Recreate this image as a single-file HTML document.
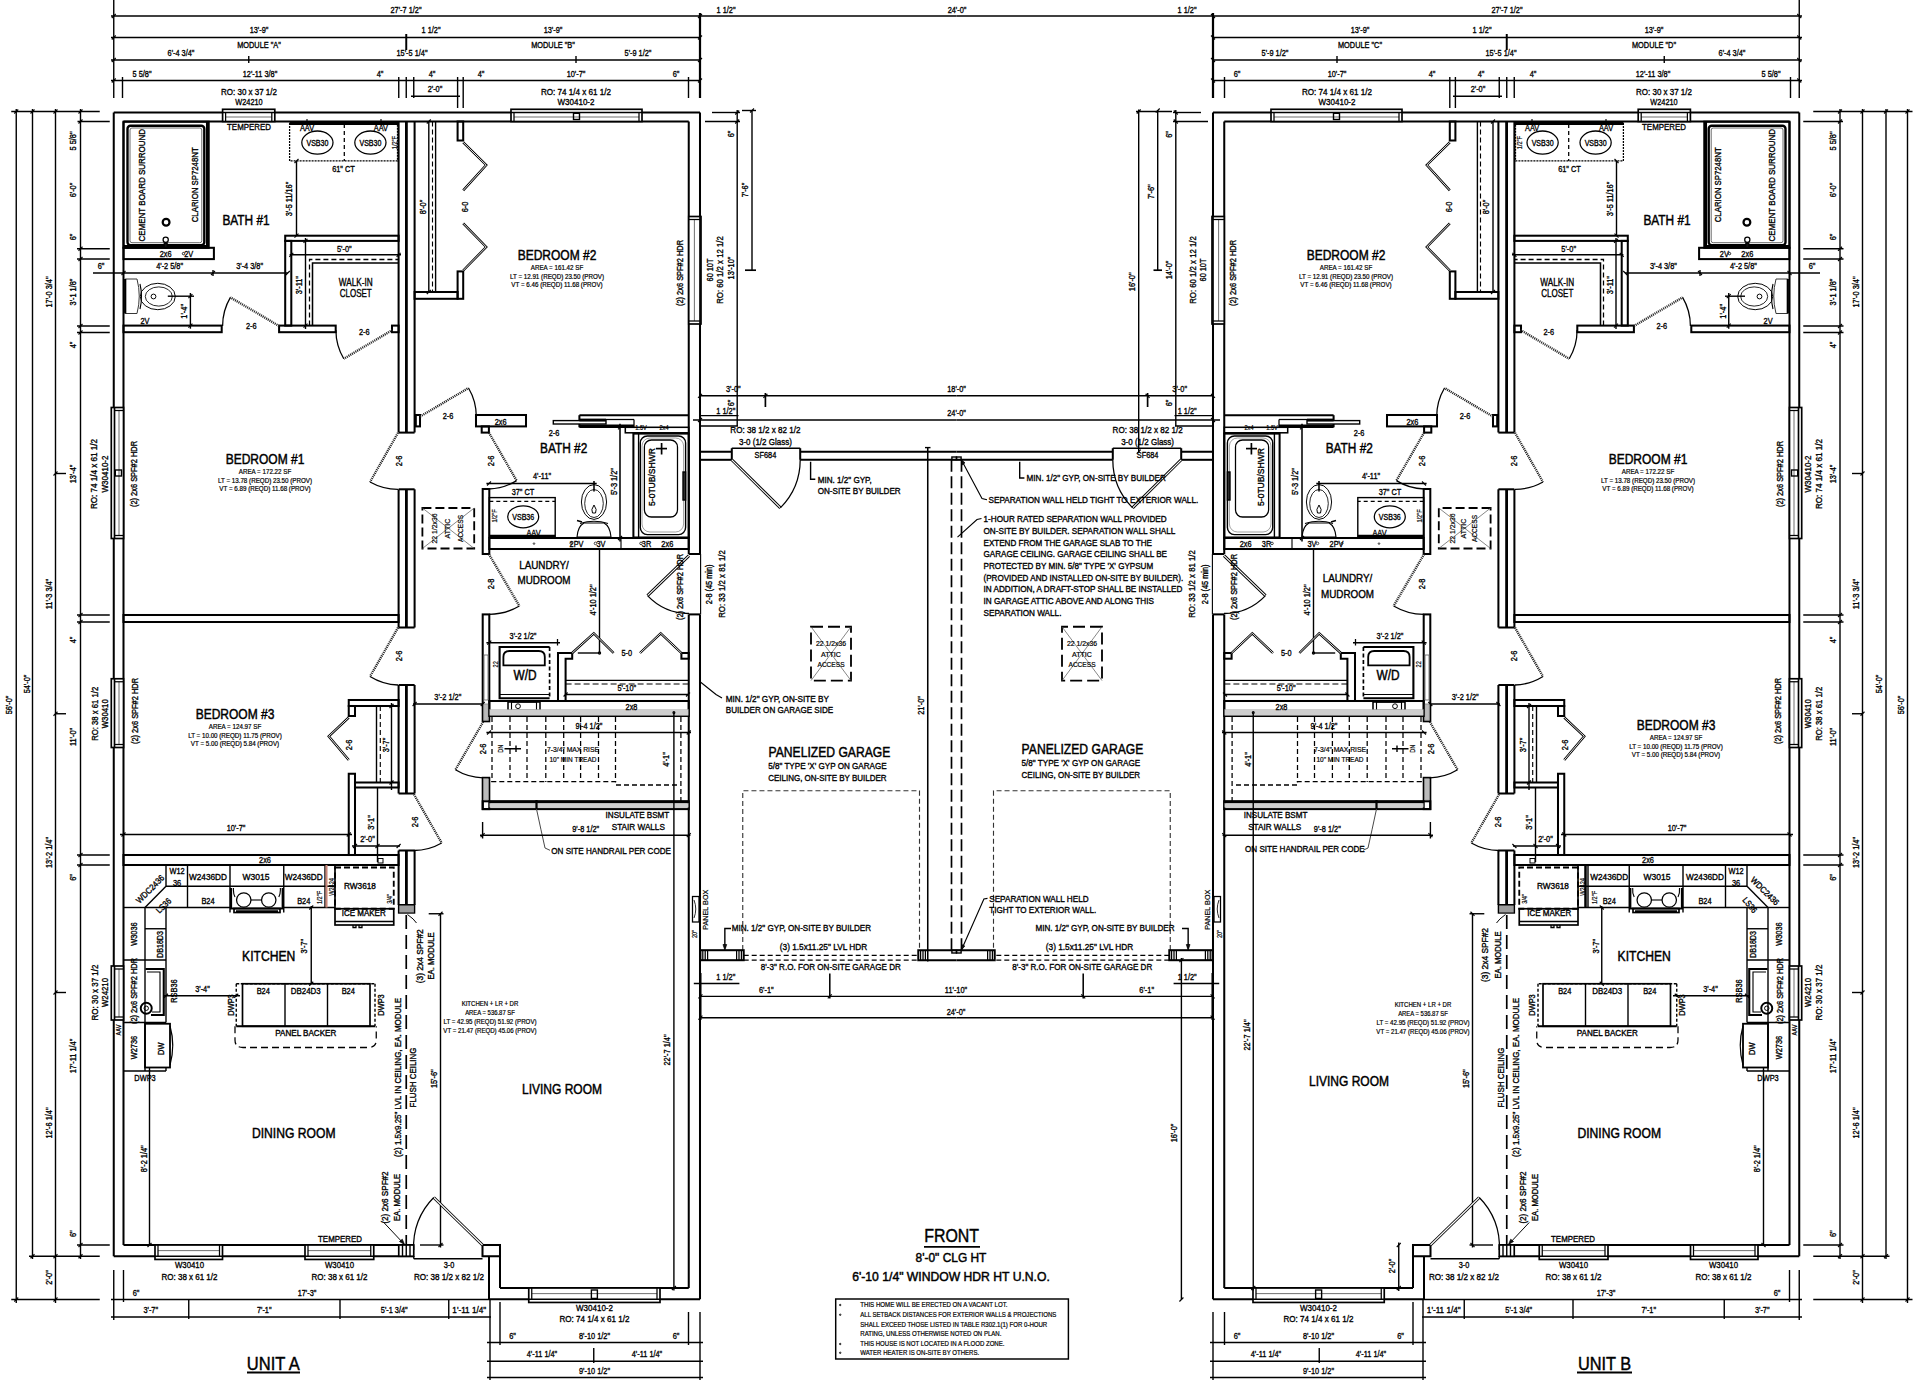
<!DOCTYPE html><html><head><meta charset="utf-8"><title>Duplex Floor Plan</title><style>html,body{margin:0;padding:0;background:#fff}
svg{display:block}text{font-family:"Liberation Sans",Arial,sans-serif;fill:#000;stroke:#000;stroke-width:.35px}.d{font-size:9.2px}.r{font-size:13.8px}.s{font-size:6.5px}.c{font-size:8.6px}.t{font-size:7px}.w{font-size:10.4px}.n{font-size:9.2px}.b{font-size:6.6px}.U{font-size:19px}.F{font-size:12.3px}.s,.b,.t{stroke-width:.2px}.r,.U,.F{stroke-width:.45px}g.k{fill:none;stroke:#000;stroke-width:1.4}
</style></head><body>
<svg width="1920" height="1380" viewBox="0 0 1920 1380">
<rect width="1920" height="1380" fill="#fff"/>
<g class="k">
<path d="M111 16L956.5 16"/>
<path d="M113.75 0L113.75 98"/>
<path d="M700 13L700 98" stroke-width="2.24"/>
<path d="M111 37.5L700 37.5"/>
<path d="M111 60L700 60"/>
<path d="M111 80.5L700 80.5"/>
<path d="M406.25 34L406.25 50" stroke-width="1.96"/>
<path d="M248.75 56L248.75 63"/>
<path d="M576 56L576 63"/>
<path d="M122.5 77L122.5 98"/>
<path d="M398.75 77L398.75 98"/>
<path d="M406.25 77L406.25 98"/>
<path d="M413.75 77L413.75 98"/>
<path d="M688.5 77L688.5 98"/>
<path d="M457.6 77L457.6 108"/>
<path d="M463.2 77L463.2 108"/>
<path d="M411 96.25L460 96.25"/>
<path d="M111.75 18L115.75 14" stroke-width="1.12"/>
<path d="M111.75 39.5L115.75 35.5" stroke-width="1.12"/>
<path d="M111.75 62L115.75 58" stroke-width="1.12"/>
<path d="M111.75 82.5L115.75 78.5" stroke-width="1.12"/>
<path d="M698 39.5L702 35.5" stroke-width="1.12"/>
<path d="M698 62L702 58" stroke-width="1.12"/>
<path d="M698 82.5L702 78.5" stroke-width="1.12"/>
<path d="M698 18L702 14" stroke-width="1.12"/>
<path d="M111 1299.5L489 1299.5"/>
<path d="M111 1317L491 1317"/>
<path d="M113.75 1270L113.75 1320"/>
<path d="M123.5 1270L123.5 1302"/>
<path d="M188.75 1299.5L188.75 1319"/>
<path d="M340 1299.5L340 1319"/>
<path d="M448.75 1299.5L448.75 1319"/>
<path d="M490 1299.5L490 1380"/>
<path d="M500 1302L500 1345"/>
<path d="M688.5 1312L688.5 1345"/>
<path d="M700 1312L700 1380"/>
<path d="M487 1342.5L703 1342.5"/>
<path d="M487 1361.25L703 1361.25"/>
<path d="M487 1377.5L703 1377.5"/>
<path d="M593.75 1348L593.75 1363"/>
<path d="M113.75 112.5L113.75 1256.25" stroke-width="2.03"/>
<path d="M123.5 121.5L123.5 1245" stroke-width="2.03"/>
<path d="M113.75 112.5L700 112.5" stroke-width="2.03"/>
<path d="M123.5 121.5L688.75 121.5" stroke-width="2.03"/>
<path d="M700 112.5L700 554" stroke-width="2.03"/>
<path d="M688.75 121.5L688.75 554" stroke-width="2.03"/>
<path d="M688.75 554L700 554" stroke-width="2.03"/>
<path d="M700 614.4L700 1299.25" stroke-width="2.03"/>
<path d="M688.75 614.4L688.75 1288" stroke-width="2.03"/>
<path d="M688.75 614.4L700 614.4" stroke-width="2.03"/>
<path d="M700.6 554L700.6 614.4" stroke-width="1.12"/>
<path d="M123.5 1245L413.75 1245" stroke-width="2.03"/>
<path d="M113.75 1256.25L413.75 1256.25" stroke-width="2.03"/>
<rect x="398.75" y="1245" width="15" height="11.25" stroke-width="1.68" fill="#fff"/>
<path d="M402.5 1245L402.5 1256.25"/>
<path d="M406.25 1245L406.25 1256.25"/>
<path d="M410 1245L410 1256.25"/>
<path d="M413.75 1258.75L482.5 1258.75"/>
<path d="M413.75 1256L413.75 1258.75"/>
<rect x="482.5" y="1245" width="17.5" height="11.25" stroke-width="2.03"/>
<path d="M489 1256.25L489 1299.25" stroke-width="2.03"/>
<path d="M500 1256.25L500 1288" stroke-width="2.03"/>
<path d="M500 1288L688.75 1288" stroke-width="2.03"/>
<path d="M489 1299.25L700 1299.25" stroke-width="2.03"/>
<rect x="111.3" y="407.5" width="12.2" height="131" stroke-width="1.68" fill="#fff"/>
<path d="M114.5 407.5L114.5 538.5" stroke-width="1.68"/>
<path d="M119 410.5L119 535.5" stroke-width="0.84" stroke="#555"/>
<path d="M114.5 410.5L123.5 410.5" stroke-width="1.26"/>
<path d="M114.5 535.5L123.5 535.5" stroke-width="1.26"/>
<rect x="115.3" y="470" width="6.2" height="6"/>
<rect x="111.3" y="678.75" width="12.2" height="68.75" stroke-width="1.68" fill="#fff"/>
<path d="M114.5 678.75L114.5 747.5" stroke-width="1.68"/>
<path d="M119 681.75L119 744.5" stroke-width="0.84" stroke="#555"/>
<path d="M114.5 681.75L123.5 681.75" stroke-width="1.26"/>
<path d="M114.5 744.5L123.5 744.5" stroke-width="1.26"/>
<rect x="111.3" y="966" width="12.2" height="54" stroke-width="1.68" fill="#fff"/>
<path d="M114.5 966L114.5 1020" stroke-width="1.68"/>
<path d="M119 969L119 1017" stroke-width="0.84" stroke="#555"/>
<path d="M114.5 969L123.5 969" stroke-width="1.26"/>
<path d="M114.5 1017L123.5 1017" stroke-width="1.26"/>
<rect x="222.6" y="109.3" width="52.2" height="12.2" stroke-width="1.68" fill="#fff"/>
<path d="M222.6 112.5L274.8 112.5" stroke-width="1.68"/>
<path d="M225.6 117L271.8 117" stroke-width="0.84" stroke="#555"/>
<path d="M225.6 112.5L225.6 121.5" stroke-width="1.26"/>
<path d="M271.8 112.5L271.8 121.5" stroke-width="1.26"/>
<rect x="511" y="109.3" width="131" height="12.2" stroke-width="1.68" fill="#fff"/>
<path d="M511 112.5L642 112.5" stroke-width="1.68"/>
<path d="M514 117L639 117" stroke-width="0.84" stroke="#555"/>
<path d="M514 112.5L514 121.5" stroke-width="1.26"/>
<path d="M639 112.5L639 121.5" stroke-width="1.26"/>
<rect x="573.5" y="113.3" width="6" height="6.2"/>
<rect x="688.75" y="216.5" width="12.25" height="107.5" stroke-width="1.68" fill="#fff"/>
<path d="M700 216.5L700 324" stroke-width="1.68"/>
<path d="M694.38 219.5L694.38 321" stroke-width="0.84" stroke="#555"/>
<path d="M700 219.5L688.75 219.5" stroke-width="1.26"/>
<path d="M700 321L688.75 321" stroke-width="1.26"/>
<rect x="155" y="1245" width="67.5" height="14.45" stroke-width="1.68" fill="#fff"/>
<path d="M155 1256.25L222.5 1256.25" stroke-width="1.68"/>
<path d="M158 1250.62L219.5 1250.62" stroke-width="0.84" stroke="#555"/>
<path d="M158 1256.25L158 1245" stroke-width="1.26"/>
<path d="M219.5 1256.25L219.5 1245" stroke-width="1.26"/>
<rect x="305" y="1245" width="68.75" height="14.45" stroke-width="1.68" fill="#fff"/>
<path d="M305 1256.25L373.75 1256.25" stroke-width="1.68"/>
<path d="M308 1250.62L370.75 1250.62" stroke-width="0.84" stroke="#555"/>
<path d="M308 1256.25L308 1245" stroke-width="1.26"/>
<path d="M370.75 1256.25L370.75 1245" stroke-width="1.26"/>
<rect x="528.75" y="1288" width="131.25" height="14.45" stroke-width="1.68" fill="#fff"/>
<path d="M528.75 1299.25L660 1299.25" stroke-width="1.68"/>
<path d="M531.75 1293.62L657 1293.62" stroke-width="0.84" stroke="#555"/>
<path d="M531.75 1299.25L531.75 1288" stroke-width="1.26"/>
<path d="M657 1299.25L657 1288" stroke-width="1.26"/>
<rect x="591.38" y="1290" width="6" height="8.45"/>
<path d="M398.6 121.5L398.6 432.6" stroke-width="2.03"/>
<path d="M406.4 121.5L406.4 432.6" stroke-width="2.8"/>
<path d="M414.6 121.5L414.6 432.6" stroke-width="2.03"/>
<path d="M398.6 432.6L414.6 432.6" stroke-width="2.03"/>
<path d="M398.6 489.3L398.6 627.5" stroke-width="2.03"/>
<path d="M406.4 489.3L406.4 627.5" stroke-width="2.8"/>
<path d="M414.6 489.3L414.6 627.5" stroke-width="2.03"/>
<path d="M398.6 489.3L414.6 489.3" stroke-width="2.03"/>
<path d="M398.6 627.5L414.6 627.5" stroke-width="2.03"/>
<path d="M398.6 685L398.6 793.5" stroke-width="2.03"/>
<path d="M406.4 685L406.4 793.5" stroke-width="2.8"/>
<path d="M414.6 685L414.6 793.5" stroke-width="2.03"/>
<path d="M398.6 685L414.6 685" stroke-width="2.03"/>
<path d="M398.6 793.5L414.6 793.5" stroke-width="2.03"/>
<path d="M398.6 850.5L398.6 905" stroke-width="2.03"/>
<path d="M406.4 850.5L406.4 905" stroke-width="2.8"/>
<path d="M414.6 850.5L414.6 905" stroke-width="2.03"/>
<path d="M398.6 850.5L414.6 850.5" stroke-width="2.03"/>
<path d="M398.6 905L414.6 905" stroke-width="2.03"/>
<rect x="398.6" y="905" width="16" height="8" fill="#fff"/>
<path d="M398.6 907L414.6 907" stroke-width="0.77"/>
<path d="M398.6 909L414.6 909" stroke-width="0.77"/>
<path d="M398.6 911L414.6 911" stroke-width="0.77"/>
<rect x="123.5" y="121.7" width="85.2" height="126.1" stroke-width="2.03"/>
<path d="M207.5 121.7L207.5 247.8" stroke-width="3.08"/>
<path d="M123.5 246.6L208.7 246.6" stroke-width="3.08"/>
<rect x="127.5" y="125.7" width="76.8" height="119.5" stroke-width="2.38" rx="3"/>
<rect x="130" y="128" width="71.8" height="114.7" stroke-width="0.98" stroke="#666" rx="2"/>
<ellipse cx="166.1" cy="222.3" rx="3.4" ry="3.4" stroke-width="2.24"/>
<ellipse cx="165.7" cy="239.7" rx="2.6" ry="2.6" stroke-width="1.26"/>
<rect x="164.2" y="243" width="3" height="5" stroke-width="1.12" fill="#111"/>
<rect x="123.5" y="247.8" width="90.4" height="11.3" stroke-width="2.03"/>
<ellipse cx="183.5" cy="253.6" rx="1.2" ry="1.2" stroke-width="0.84"/>
<path d="M93 273L287.8 273"/>
<path d="M213 270L213 276"/>
<path d="M121.5 275L125.5 271" stroke-width="1.12"/>
<path d="M211 275L215 271" stroke-width="1.12"/>
<path d="M285.8 275L289.8 271" stroke-width="1.12"/>
<path d="M125.2 279 L137 279 Q141.5 296 137 313.5 L125.2 313.5" stroke-width="0.98" stroke="#333"/>
<path d="M125.2 279L125.2 313.5" stroke-width="2.24"/>
<ellipse cx="157.8" cy="296.5" rx="17.5" ry="13.2" stroke-width="0.98"/>
<ellipse cx="158.8" cy="296.5" rx="13.5" ry="9.6" stroke-width="0.84"/>
<path d="M140 284 Q143 296.5 140 309" stroke-width="1.12"/>
<ellipse cx="153.5" cy="296.5" rx="2.4" ry="2.4" stroke-width="0.98"/>
<rect x="123.5" y="325.6" width="98.2" height="6.6" stroke-width="2.03"/>
<rect x="279.1" y="325.6" width="56.6" height="6.6" stroke-width="2.03"/>
<path d="M279.1 326L230.4 297.4" stroke-width="2.38" stroke-dasharray="1.1 0.9" stroke="#222"/>
<path d="M230.4 297.4A56.48 56.48 0 0 0 222.6 326" stroke-width="1.26"/>
<rect x="289.6" y="121.7" width="107.9" height="39.2" stroke-width="1.26" stroke-dasharray="2 1"/>
<path d="M289.6 123L398 123" stroke-width="4.2"/>
<path d="M344.3 124L344.3 160.9" stroke-width="1.26" stroke-dasharray="4 3"/>
<ellipse cx="317.4" cy="142.6" rx="15.6" ry="11.6" stroke-width="1.26"/>
<ellipse cx="370.4" cy="142.6" rx="15.6" ry="11.6" stroke-width="1.26"/>
<path d="M307 121.5 L307 119 M381 121.5 L381 119" stroke-width="1.12"/>
<path d="M296.5 161L296.5 235.7"/>
<path d="M294.5 163L298.5 159" stroke-width="1.12"/>
<path d="M294.5 237.7L298.5 233.7" stroke-width="1.12"/>
<rect x="285.2" y="235.7" width="113.4" height="5.2" stroke-width="2.03"/>
<rect x="285.2" y="240.9" width="6.1" height="84.7" stroke-width="2.03"/>
<path d="M289.6 254.8L401 254.8"/>
<path d="M289.3 256.8L293.3 252.8" stroke-width="1.12"/>
<path d="M396.6 256.8L400.6 252.8" stroke-width="1.12"/>
<path d="M309.5 325.6 L309.5 259.5 L398.6 259.5" stroke-width="1.26" stroke-dasharray="5 3"/>
<path d="M312.5 325.6 L312.5 263 L398.6 263" stroke-width="1.54"/>
<rect x="392" y="325.6" width="6.6" height="6.6" stroke-width="2.03"/>
<path d="M392.5 330L343.75 358.75" stroke-width="2.38" stroke-dasharray="1.1 0.9" stroke="#222"/>
<path d="M343.75 358.75A56.6 56.6 0 0 1 335.9 330" stroke-width="1.26"/>
<rect x="123.5" y="615" width="275.1" height="7" stroke-width="2.03"/>
<path d="M398 432.8L370 482" stroke-width="2.38" stroke-dasharray="1.1 0.9" stroke="#222"/>
<path d="M370 482A56.61 56.61 0 0 0 398 489.3" stroke-width="1.26"/>
<path d="M398 627.7L370 676.5" stroke-width="2.38" stroke-dasharray="1.1 0.9" stroke="#222"/>
<path d="M370 676.5A56.26 56.26 0 0 0 398 685" stroke-width="1.26"/>
<rect x="348.75" y="700" width="49.85" height="6" stroke-width="2.03"/>
<rect x="348.75" y="706" width="6.25" height="10" stroke-width="2.03"/>
<rect x="348.75" y="773.75" width="6.25" height="81.25" stroke-width="2.03"/>
<rect x="355" y="782.5" width="43.6" height="5" stroke-width="2.03"/>
<path d="M376.5 706L376.5 782.5"/>
<path d="M380.3 706L380.3 782.5" stroke-width="1.12" stroke-dasharray="5 3"/>
<path d="M348.75 717.5L328.75 736.25L348.75 760" stroke-width="2.4" stroke-linejoin="miter"/>
<path d="M348.75 717.5L328.75 736.25L348.75 760" stroke-width="0.9" stroke="#fff"/>
<path d="M377.5 787.5L377.5 862"/>
<path d="M352 846L400 846"/>
<path d="M375.5 848L379.5 844" stroke-width="1.12"/>
<path d="M353 848L357 844" stroke-width="1.12"/>
<path d="M396.6 848L400.6 844" stroke-width="1.12"/>
<path d="M120 834.5L352 834.5"/>
<path d="M121.5 836.5L125.5 832.5" stroke-width="1.12"/>
<path d="M346.75 836.5L350.75 832.5" stroke-width="1.12"/>
<rect x="123.5" y="855" width="275.1" height="10" stroke-width="2.03"/>
<rect x="378" y="858.5" width="5" height="4.5" stroke-width="0.98"/>
<rect x="457.6" y="121.5" width="5.6" height="19" stroke-width="2.03"/>
<rect x="457.6" y="271.4" width="5.6" height="27.4" stroke-width="2.03"/>
<rect x="414.6" y="292" width="43" height="6.8" stroke-width="2.03"/>
<path d="M432.5 121.5L432.5 292" stroke-width="1.12" stroke-dasharray="5 3"/>
<path d="M435.6 121.5L435.6 292"/>
<path d="M463.2 142.4L486.2 165L463.2 190.4" stroke-width="2.4" stroke-linejoin="miter"/>
<path d="M463.2 142.4L486.2 165L463.2 190.4" stroke-width="0.9" stroke="#fff"/>
<path d="M463.2 223.4L486.2 247L463.2 270.5" stroke-width="2.4" stroke-linejoin="miter"/>
<path d="M463.2 223.4L486.2 247L463.2 270.5" stroke-width="0.9" stroke="#fff"/>
<rect x="415.8" y="415" width="4.2" height="11.4" stroke-width="2.03"/>
<path d="M420 416.6L468.5 388" stroke-width="2.38" stroke-dasharray="1.1 0.9" stroke="#222"/>
<path d="M468.5 388A56.3 56.3 0 0 1 476.3 416.6" stroke-width="1.26"/>
<path d="M413.9 794.3L441.7 843" stroke-width="2.38" stroke-dasharray="1.1 0.9" stroke="#222"/>
<path d="M441.7 843A56.08 56.08 0 0 1 413.9 850.5" stroke-width="1.26"/>
<rect x="476" y="415" width="50" height="11.4" stroke-width="2.03"/>
<rect x="481.7" y="426.4" width="7.2" height="6.2" stroke-width="2.03"/>
<path d="M488.9 432.6L516.6 480.6" stroke-width="2.38" stroke-dasharray="1.1 0.9" stroke="#222"/>
<path d="M516.6 480.6A55.42 55.42 0 0 1 488.9 489" stroke-width="1.26"/>
<rect x="422.4" y="508" width="51.8" height="40.5" stroke-width="1.82" stroke-dasharray="9 4"/>
<path d="M422.4 508L474.2 548.5" stroke-width="0.7" stroke="#555"/>
<path d="M474.2 508L422.4 548.5" stroke-width="0.7" stroke="#555"/>
<path d="M579.4 415.2L688.75 415.2" stroke-width="2.03"/>
<path d="M579.4 415.2L579.4 427.3" stroke-width="2.03"/>
<path d="M579.4 426.2L634 426.2" stroke-width="3.36"/>
<rect x="553.3" y="420.6" width="52.7" height="3.4" fill="#fff"/>
<path d="M606 419.5L634 419.5" stroke-width="1.26"/>
<path d="M634 419.5L634 427.3" stroke-width="1.26"/>
<path d="M579.4 420L606 420" stroke-width="2.8"/>
<rect x="625.3" y="427.3" width="63.45" height="5.5" stroke-width="1.54"/>
<rect x="633.4" y="433.6" width="55.35" height="103.9" stroke-width="2.03"/>
<path d="M638.6 433.6L638.6 537.5"/>
<rect x="640.3" y="436" width="45.3" height="98.6" rx="7"/>
<rect x="644.4" y="440" width="33.1" height="77" stroke-width="1.26" rx="7"/>
<rect x="642" y="438" width="41.6" height="94" stroke-width="0.7" stroke="#777" rx="8"/>
<path d="M656 448.6L667 448.6" stroke-width="1.68"/>
<path d="M661.6 443L661.6 454.5" stroke-width="1.68"/>
<rect x="683" y="472" width="2.6" height="28" fill="#333"/>
<path d="M486.4 483.5L596.7 483.5"/>
<path d="M487 485.5L491 481.5" stroke-width="1.12"/>
<path d="M594 481L594 491.6" stroke-width="1.54"/>
<rect x="482.7" y="489" width="6.6" height="65" stroke-width="2.03"/>
<rect x="489.3" y="497.6" width="65.9" height="39.4"/>
<path d="M489.3 501.4L555.2 501.4" stroke-width="1.12" stroke-dasharray="4 3"/>
<path d="M489.3 536.6L555.2 536.6" stroke-width="3.64"/>
<ellipse cx="523.2" cy="516.8" rx="15.5" ry="11" stroke-width="1.26"/>
<path d="M577 537 Q578 526 584 523 L604 523 Q610 526 611 537 Z" stroke-width="1.12"/>
<path d="M580 523.5 Q594 519 608 523.5" stroke-width="1.12"/>
<ellipse cx="594" cy="502" rx="12.6" ry="17.4" stroke-width="0.98"/>
<ellipse cx="594" cy="503.5" rx="9.3" ry="14" stroke-width="0.84"/>
<path d="M594 505 Q590.5 510 592.5 513 L595.5 513 Q597.5 510 594 505" stroke-width="0.98"/>
<path d="M577 520.5 L582 522"/>
<rect x="489.3" y="538" width="199.45" height="11" stroke-width="2.03"/>
<path d="M621 538L621 549" stroke-width="1.12"/>
<ellipse cx="571" cy="543.4" rx="1" ry="1" stroke-width="0.7"/>
<ellipse cx="595.5" cy="543.4" rx="1.3" ry="1.3" stroke-width="0.7"/>
<ellipse cx="641" cy="543.4" rx="1.3" ry="1.3" stroke-width="0.7"/>
<ellipse cx="534" cy="543.6" rx="0.8" ry="0.8" stroke-width="0.7"/>
<path d="M488.9 554.1L519.4 606" stroke-width="2.38" stroke-dasharray="1.1 0.9" stroke="#222"/>
<path d="M519.4 606A60.2 60.2 0 0 1 489.3 614.4" stroke-width="1.26"/>
<rect x="482.7" y="614.4" width="6.6" height="106.9" stroke-width="2.03"/>
<rect x="483.7" y="704" width="4.6" height="16.3" stroke-width="0.84" stroke="#888" fill="#bbb"/>
<rect x="484" y="655" width="4" height="45" stroke-width="0.84" stroke="#666"/>
<path d="M599.5 549L599.5 653"/>
<path d="M577.8 653L599.5 653"/>
<ellipse cx="599.5" cy="653" rx="1" ry="1"/>
<path d="M486.4 642.7L560 642.7"/>
<path d="M487.3 644.7L491.3 640.7" stroke-width="1.12"/>
<path d="M557.5 639L557.5 645.5" stroke-width="1.26"/>
<path d="M549.6 647 L499.6 647 L499.6 698.3 L549.6 698.3" stroke-width="2.1"/>
<path d="M549.6 647L549.6 698.3" stroke-width="1.68" stroke-dasharray="4 2.5"/>
<path d="M503.4 665.3 L503.4 657 Q503.4 651 509.4 651 L538.8 651 Q544.8 651 544.8 657 L544.8 665.3 Z" stroke-width="1.82"/>
<path d="M499.6 694.5L549.6 694.5" stroke-width="1.12"/>
<rect x="508" y="702" width="32" height="8.5" stroke-width="1.54"/>
<rect x="511.5" y="702" width="25" height="8.5" stroke-width="1.12"/>
<ellipse cx="518" cy="706.2" rx="2.4" ry="2.4" stroke-width="0.98"/>
<path d="M558 701 L558 653 L572.2 653 L572.2 658.7 L565.6 658.7 L565.6 701" stroke-width="2.03"/>
<rect x="681.4" y="653" width="7.35" height="5.7" stroke-width="2.03"/>
<path d="M572.2 653L593.8 633.3L613.6 653" stroke-width="2.4" stroke-linejoin="miter"/>
<path d="M572.2 653L593.8 633.3L613.6 653" stroke-width="0.9" stroke="#fff"/>
<path d="M640 653L660.7 633.3L681.4 653" stroke-width="2.4" stroke-linejoin="miter"/>
<path d="M640 653L660.7 633.3L681.4 653" stroke-width="0.9" stroke="#fff"/>
<path d="M565.6 680.4L688.75 680.4"/>
<path d="M565.6 684L688.75 684" stroke-width="1.12" stroke-dasharray="6 3"/>
<path d="M565.6 694.5L688.75 694.5"/>
<path d="M563.6 696.5L567.6 692.5" stroke-width="1.12"/>
<path d="M686 696.5L690 692.5" stroke-width="1.12"/>
<rect x="489.3" y="701" width="199.45" height="15" stroke-width="2.03"/>
<rect x="489.8" y="709.6" width="198.4" height="5.8" stroke-width="0.42" stroke="#aaa" fill="#cfcfcf"/>
<path d="M689 555.6L647.5 595.6" stroke-width="2.94"/>
<path d="M689 555.6L647.5 595.6" stroke-width="1.1" stroke="#fff"/>
<path d="M647.5 595.6A57.64 57.64 0 0 0 689 613.5" stroke-width="1.26"/>
<path d="M413 704L482.7 704"/>
<path d="M412.6 706L416.6 702" stroke-width="1.12"/>
<path d="M480.7 706L484.7 702" stroke-width="1.12"/>
<path d="M492 717L492 782" stroke-width="1.26" stroke-dasharray="5 3"/>
<path d="M510 717L510 782" stroke-width="1.26" stroke-dasharray="5 3"/>
<path d="M527 717L527 782" stroke-width="1.26" stroke-dasharray="5 3"/>
<path d="M545.8 717L545.8 782" stroke-width="1.26" stroke-dasharray="5 3"/>
<path d="M563.7 717L563.7 782" stroke-width="1.26" stroke-dasharray="5 3"/>
<path d="M580.6 717L580.6 782" stroke-width="1.26" stroke-dasharray="5 3"/>
<path d="M598.5 717L598.5 782" stroke-width="1.26" stroke-dasharray="5 3"/>
<path d="M615.5 717L615.5 782" stroke-width="1.26" stroke-dasharray="5 3"/>
<path d="M491.3 781.7 L615.5 781.7 L615.5 785 L678 785" stroke-width="1.26" stroke-dasharray="5 3"/>
<path d="M680.9 717L680.9 801" stroke-width="1.26" stroke-dasharray="5 3"/>
<path d="M486.4 732.5L691 732.5"/>
<path d="M487 734.5L491 730.5" stroke-width="1.12"/>
<path d="M686.75 734.5L690.75 730.5" stroke-width="1.12"/>
<path d="M504.5 748.7 L521 748.7 M516 745.5 L516 752"/>
<path d="M483.2 721.8L455.4 769.8" stroke-width="2.38" stroke-dasharray="1.1 0.9" stroke="#222"/>
<path d="M455.4 769.8A55.47 55.47 0 0 0 483.2 777.8" stroke-width="1.26"/>
<rect x="482.7" y="777.8" width="6.6" height="31.3" stroke-width="2.03"/>
<rect x="483.7" y="778.8" width="4.6" height="21.2" stroke-width="0.56" stroke="#999" fill="#bbb"/>
<rect x="482.7" y="801.3" width="206.05" height="7.8" stroke-width="2.03"/>
<path d="M489.3 801.8L688.75 801.8" stroke-width="2.8"/>
<rect x="489.8" y="803.5" width="198.4" height="4" stroke-width="0.42" stroke="#aaa" fill="#cfcfcf"/>
<path d="M536.5 800L536.5 809" stroke-width="2.24"/>
<path d="M536.5 809 Q541 830 545 848 L550 850.3" stroke-width="0.98" stroke="#444"/>
<path d="M480 835.2L690.4 835.2"/>
<path d="M482.6 822L482.6 838.5"/>
<path d="M480.6 837.2L484.6 833.2" stroke-width="1.12"/>
<path d="M686.75 837.2L690.75 833.2" stroke-width="1.12"/>
<path d="M406.25 915L406.25 1245" stroke-width="1.68" stroke-dasharray="14 6"/>
<path d="M440.5 913.75L440.5 1247.5"/>
<path d="M428.7 913.75L443.5 913.75"/>
<path d="M420 1245L443.5 1245"/>
<path d="M438.5 915.75L442.5 911.75" stroke-width="1.12"/>
<path d="M438.5 1247L442.5 1243" stroke-width="1.12"/>
<path d="M407.5 914.5 Q414 919 416.5 923" stroke-width="0.98"/>
<path d="M383.8 1222.5 L404.5 1244.5" stroke-width="0.98"/>
<path d="M404.5 1244.5 L399.5 1241.5 L402.3 1239.2 Z" stroke-width="0.7" fill="#111"/>
<path d="M482.5 1245L433.75 1197.5" stroke-width="2.94"/>
<path d="M482.5 1245L433.75 1197.5" stroke-width="1.1" stroke="#fff"/>
<path d="M433.75 1197.5A68.06 68.06 0 0 0 413.75 1250" stroke-width="1.26"/>
<path d="M149.5 1070L149.5 1245"/>
<path d="M147.5 1247L151.5 1243" stroke-width="1.12"/>
<rect x="692.5" y="896.5" width="6.5" height="25.5" stroke-width="1.26" fill="#fff"/>
<path d="M694 900 Q697.5 909 694 918" stroke-width="0.84"/>
<path d="M166 886.25L335 886.25"/>
<path d="M145 907.5L230 907.5"/>
<path d="M283.75 907.5L335 907.5"/>
<path d="M166 865L166 886.25"/>
<path d="M187.5 865L187.5 886.25"/>
<path d="M230 865L230 886.25"/>
<path d="M283.75 865L283.75 886.25"/>
<path d="M187.5 886.25L187.5 907.5"/>
<path d="M325 865L325 907.5"/>
<path d="M335 865L335 908.75" stroke-width="1.68"/>
<path d="M230 886.25L230 912.5"/>
<path d="M283.75 886.25L283.75 912.5"/>
<path d="M166 886.25L145 907.5"/>
<path d="M145 907.5L145 1071"/>
<path d="M166 907.5L166 1022.5"/>
<path d="M123.5 907.5L145 907.5"/>
<path d="M231 888 L231 908.5 L282.75 908.5 L282.75 888" stroke-width="2.24"/>
<path d="M233.5 888 Q233 893 235 897 M280.3 888 Q280.8 893 278.8 897" stroke-width="1.12"/>
<ellipse cx="243.75" cy="900" rx="7.2" ry="7.2" stroke-width="1.26"/>
<ellipse cx="268.75" cy="900" rx="7.2" ry="7.2" stroke-width="1.26"/>
<path d="M251 900L261.5 900" stroke-width="1.12"/>
<rect x="234" y="908.5" width="46" height="4" stroke-width="1.68"/>
<path d="M236 911.5L278 911.5" stroke-width="2.52"/>
<rect x="335" y="867.5" width="58.75" height="41.25" stroke-width="1.82" stroke-dasharray="6 3"/>
<rect x="335" y="908.75" width="58.75" height="16.25" stroke-width="1.68"/>
<path d="M335 921.5L393.75 921.5" stroke-width="1.26"/>
<path d="M353 925 L353 927.5 L356 927.5 L356 925 M359 925 L359 927.5 L362 927.5 L362 925" stroke-width="1.26"/>
<path d="M145 928.75L166 928.75"/>
<path d="M123.5 960L166 960"/>
<path d="M123.5 1022.5L166 1022.5"/>
<path d="M123.5 1071L166 1071"/>
<path d="M166 1067.5L166 1071"/>
<path d="M145.5 969 L163.75 969 L163.75 1015 L151 1015" stroke-width="2.1"/>
<path d="M147 972 L160 972 L160 1012 L152 1012" stroke-width="1.12"/>
<ellipse cx="146.25" cy="1008.25" rx="5.5" ry="5.5" stroke-width="1.96"/>
<ellipse cx="146.25" cy="1008.25" rx="2.2" ry="2.2" stroke-width="0.98"/>
<rect x="145" y="1023.75" width="25" height="43.75" stroke-width="1.82"/>
<path d="M170 1026 Q175.5 1045.6 170 1065" stroke-width="1.26"/>
<path d="M149.5 1067.5L149.5 1071"/>
<path d="M163.75 995.75L240 995.75"/>
<path d="M164 997.75L168 993.75" stroke-width="1.12"/>
<path d="M234.25 997.75L238.25 993.75" stroke-width="1.12"/>
<path d="M311.25 906L311.25 983.75"/>
<path d="M309.25 909.5L313.25 905.5" stroke-width="1.12"/>
<path d="M309.25 985.75L313.25 981.75" stroke-width="1.12"/>
<path d="M236.25 983.75L375 983.75" stroke-width="1.68" stroke-dasharray="3 1.5"/>
<path d="M236.25 1026.25L375 1026.25" stroke-width="1.82"/>
<path d="M236.25 983.75L236.25 1026.25" stroke-dasharray="3 2"/>
<path d="M375 983.75L375 1026.25" stroke-dasharray="3 2"/>
<rect x="242.5" y="983.75" width="127.5" height="42.5" stroke-width="1.68"/>
<path d="M285 983.75L285 1026.25"/>
<path d="M327.5 983.75L327.5 1026.25"/>
<path d="M235 1026.25 L235 1040 Q235 1047.5 243 1047.5 L368.25 1047.5 Q376.25 1047.5 376.25 1040 L376.25 1026.25" stroke-width="1.26" stroke-dasharray="7 4"/>
<path d="M700 451.75L731.8 451.75" stroke-width="2.03"/>
<path d="M700 459.8L731.8 459.8" stroke-width="2.03"/>
<path d="M731.8 448.2L731.8 459.8" stroke-width="2.03"/>
<path d="M731.8 448.2L800.2 448.2"/>
<path d="M800.2 448.2L800.2 459.8" stroke-width="2.03"/>
<path d="M800.2 451.75L956.5 451.75" stroke-width="2.03"/>
<path d="M800.2 459.8L956.5 459.8" stroke-width="2.03"/>
<path d="M731.8 459.8L780.4 507.9" stroke-width="2.94"/>
<path d="M731.8 459.8L780.4 507.9" stroke-width="1.1" stroke="#fff"/>
<path d="M780.4 507.9A68.38 68.38 0 0 0 800.2 459.8" stroke-width="1.26"/>
<path d="M951.5 459.8L951.5 950" stroke-width="1.68" stroke-dasharray="12 4.5"/>
<rect x="951.9" y="457" width="4.6" height="2.8"/>
<rect x="951.9" y="950.2" width="4.6" height="2.8"/>
<rect x="811" y="626.75" width="40" height="53.85" stroke-width="1.82" stroke-dasharray="12 5"/>
<path d="M811 626.75L851 680.6" stroke-width="0.7" stroke="#555"/>
<path d="M851 626.75L811 680.6" stroke-width="0.7" stroke="#555"/>
<path d="M742.75 950 L742.75 790.7 L919.5 790.7 L919.5 950" stroke-width="1.12" stroke-dasharray="5 3" stroke="#333"/>
<rect x="700.4" y="950.2" width="43.3" height="10" stroke-width="2.03"/>
<path d="M702.8 950.2L702.8 960.2" stroke-width="1.26"/>
<path d="M705.2 950.2L705.2 960.2" stroke-width="1.26"/>
<path d="M707.6 950.2L707.6 960.2" stroke-width="1.26"/>
<path d="M736.6 950.2L736.6 960.2" stroke-width="1.26"/>
<path d="M739 950.2L739 960.2" stroke-width="1.26"/>
<path d="M741.4 950.2L741.4 960.2" stroke-width="1.26"/>
<path d="M743.7 955.3L918.3 955.3" stroke-width="1.26" stroke-dasharray="5 3"/>
<path d="M743.7 960.2L918.3 960.2" stroke-width="1.26" stroke-dasharray="5 3"/>
<path d="M956.5 950.2 L918.3 950.2 L918.3 960.2 L956.5 960.2" stroke-width="2.03"/>
<path d="M920.6 950.2L920.6 960.2" stroke-width="1.26"/>
<path d="M923 950.2L923 960.2" stroke-width="1.26"/>
<path d="M925.4 950.2L925.4 960.2" stroke-width="1.26"/>
<path d="M731 928.5 L724.85 928.5 L724.85 948.5"/>
<path d="M724.85 950 L723 944.5 L726.7 944.5 Z" stroke-width="0.7" fill="#111"/>
<path d="M693.8 983.5L739.4 983.5"/>
<path d="M700.4 973L700.4 1020" stroke-width="2.24"/>
<path d="M700.4 996.4L956.5 996.4"/>
<path d="M829.8 973.4L829.8 998.5" stroke-width="1.54"/>
<path d="M700.4 1017.7L956.5 1017.7"/>
<path d="M698.4 998.4L702.4 994.4" stroke-width="1.12"/>
<path d="M827.8 998.4L831.8 994.4" stroke-width="1.12"/>
<path d="M698.4 1019.7L702.4 1015.7" stroke-width="1.12"/>
<path d="M699 395.8L956.5 395.8"/>
<path d="M765.4 393L765.4 407" stroke-width="1.68"/>
<path d="M693 420L956.5 420"/>
<path d="M700 415.6L738.5 415.6"/>
<path d="M700 426L738 426"/>
<path d="M737.2 110L737.2 426"/>
<path d="M712 112.5L740 112.5"/>
<path d="M705 121.5L740 121.5"/>
<path d="M735.2 114.5L739.2 110.5" stroke-width="1.12"/>
<path d="M735.2 123.5L739.2 119.5" stroke-width="1.12"/>
<path d="M698 397.8L702 393.8" stroke-width="1.12"/>
<path d="M763.4 397.8L767.4 393.8" stroke-width="1.12"/>
<path d="M698 422L702 418" stroke-width="1.12"/>
</g>
<g class="k" transform="translate(1913 0) scale(-1 1)">
<path d="M111 16L956.5 16"/>
<path d="M113.75 0L113.75 98"/>
<path d="M700 13L700 98" stroke-width="2.24"/>
<path d="M111 37.5L700 37.5"/>
<path d="M111 60L700 60"/>
<path d="M111 80.5L700 80.5"/>
<path d="M406.25 34L406.25 50" stroke-width="1.96"/>
<path d="M248.75 56L248.75 63"/>
<path d="M576 56L576 63"/>
<path d="M122.5 77L122.5 98"/>
<path d="M398.75 77L398.75 98"/>
<path d="M406.25 77L406.25 98"/>
<path d="M413.75 77L413.75 98"/>
<path d="M688.5 77L688.5 98"/>
<path d="M457.6 77L457.6 108"/>
<path d="M463.2 77L463.2 108"/>
<path d="M411 96.25L460 96.25"/>
<path d="M111.75 18L115.75 14" stroke-width="1.12"/>
<path d="M111.75 39.5L115.75 35.5" stroke-width="1.12"/>
<path d="M111.75 62L115.75 58" stroke-width="1.12"/>
<path d="M111.75 82.5L115.75 78.5" stroke-width="1.12"/>
<path d="M698 39.5L702 35.5" stroke-width="1.12"/>
<path d="M698 62L702 58" stroke-width="1.12"/>
<path d="M698 82.5L702 78.5" stroke-width="1.12"/>
<path d="M698 18L702 14" stroke-width="1.12"/>
<path d="M111 1299.5L489 1299.5"/>
<path d="M111 1317L491 1317"/>
<path d="M113.75 1270L113.75 1320"/>
<path d="M123.5 1270L123.5 1302"/>
<path d="M188.75 1299.5L188.75 1319"/>
<path d="M340 1299.5L340 1319"/>
<path d="M448.75 1299.5L448.75 1319"/>
<path d="M490 1299.5L490 1380"/>
<path d="M500 1302L500 1345"/>
<path d="M688.5 1312L688.5 1345"/>
<path d="M700 1312L700 1380"/>
<path d="M487 1342.5L703 1342.5"/>
<path d="M487 1361.25L703 1361.25"/>
<path d="M487 1377.5L703 1377.5"/>
<path d="M593.75 1348L593.75 1363"/>
<path d="M113.75 112.5L113.75 1256.25" stroke-width="2.03"/>
<path d="M123.5 121.5L123.5 1245" stroke-width="2.03"/>
<path d="M113.75 112.5L700 112.5" stroke-width="2.03"/>
<path d="M123.5 121.5L688.75 121.5" stroke-width="2.03"/>
<path d="M700 112.5L700 554" stroke-width="2.03"/>
<path d="M688.75 121.5L688.75 554" stroke-width="2.03"/>
<path d="M688.75 554L700 554" stroke-width="2.03"/>
<path d="M700 614.4L700 1299.25" stroke-width="2.03"/>
<path d="M688.75 614.4L688.75 1288" stroke-width="2.03"/>
<path d="M688.75 614.4L700 614.4" stroke-width="2.03"/>
<path d="M700.6 554L700.6 614.4" stroke-width="1.12"/>
<path d="M123.5 1245L413.75 1245" stroke-width="2.03"/>
<path d="M113.75 1256.25L413.75 1256.25" stroke-width="2.03"/>
<rect x="398.75" y="1245" width="15" height="11.25" stroke-width="1.68" fill="#fff"/>
<path d="M402.5 1245L402.5 1256.25"/>
<path d="M406.25 1245L406.25 1256.25"/>
<path d="M410 1245L410 1256.25"/>
<path d="M413.75 1258.75L482.5 1258.75"/>
<path d="M413.75 1256L413.75 1258.75"/>
<rect x="482.5" y="1245" width="17.5" height="11.25" stroke-width="2.03"/>
<path d="M489 1256.25L489 1299.25" stroke-width="2.03"/>
<path d="M500 1256.25L500 1288" stroke-width="2.03"/>
<path d="M500 1288L688.75 1288" stroke-width="2.03"/>
<path d="M489 1299.25L700 1299.25" stroke-width="2.03"/>
<rect x="111.3" y="407.5" width="12.2" height="131" stroke-width="1.68" fill="#fff"/>
<path d="M114.5 407.5L114.5 538.5" stroke-width="1.68"/>
<path d="M119 410.5L119 535.5" stroke-width="0.84" stroke="#555"/>
<path d="M114.5 410.5L123.5 410.5" stroke-width="1.26"/>
<path d="M114.5 535.5L123.5 535.5" stroke-width="1.26"/>
<rect x="115.3" y="470" width="6.2" height="6"/>
<rect x="111.3" y="678.75" width="12.2" height="68.75" stroke-width="1.68" fill="#fff"/>
<path d="M114.5 678.75L114.5 747.5" stroke-width="1.68"/>
<path d="M119 681.75L119 744.5" stroke-width="0.84" stroke="#555"/>
<path d="M114.5 681.75L123.5 681.75" stroke-width="1.26"/>
<path d="M114.5 744.5L123.5 744.5" stroke-width="1.26"/>
<rect x="111.3" y="966" width="12.2" height="54" stroke-width="1.68" fill="#fff"/>
<path d="M114.5 966L114.5 1020" stroke-width="1.68"/>
<path d="M119 969L119 1017" stroke-width="0.84" stroke="#555"/>
<path d="M114.5 969L123.5 969" stroke-width="1.26"/>
<path d="M114.5 1017L123.5 1017" stroke-width="1.26"/>
<rect x="222.6" y="109.3" width="52.2" height="12.2" stroke-width="1.68" fill="#fff"/>
<path d="M222.6 112.5L274.8 112.5" stroke-width="1.68"/>
<path d="M225.6 117L271.8 117" stroke-width="0.84" stroke="#555"/>
<path d="M225.6 112.5L225.6 121.5" stroke-width="1.26"/>
<path d="M271.8 112.5L271.8 121.5" stroke-width="1.26"/>
<rect x="511" y="109.3" width="131" height="12.2" stroke-width="1.68" fill="#fff"/>
<path d="M511 112.5L642 112.5" stroke-width="1.68"/>
<path d="M514 117L639 117" stroke-width="0.84" stroke="#555"/>
<path d="M514 112.5L514 121.5" stroke-width="1.26"/>
<path d="M639 112.5L639 121.5" stroke-width="1.26"/>
<rect x="573.5" y="113.3" width="6" height="6.2"/>
<rect x="688.75" y="216.5" width="12.25" height="107.5" stroke-width="1.68" fill="#fff"/>
<path d="M700 216.5L700 324" stroke-width="1.68"/>
<path d="M694.38 219.5L694.38 321" stroke-width="0.84" stroke="#555"/>
<path d="M700 219.5L688.75 219.5" stroke-width="1.26"/>
<path d="M700 321L688.75 321" stroke-width="1.26"/>
<rect x="155" y="1245" width="67.5" height="14.45" stroke-width="1.68" fill="#fff"/>
<path d="M155 1256.25L222.5 1256.25" stroke-width="1.68"/>
<path d="M158 1250.62L219.5 1250.62" stroke-width="0.84" stroke="#555"/>
<path d="M158 1256.25L158 1245" stroke-width="1.26"/>
<path d="M219.5 1256.25L219.5 1245" stroke-width="1.26"/>
<rect x="305" y="1245" width="68.75" height="14.45" stroke-width="1.68" fill="#fff"/>
<path d="M305 1256.25L373.75 1256.25" stroke-width="1.68"/>
<path d="M308 1250.62L370.75 1250.62" stroke-width="0.84" stroke="#555"/>
<path d="M308 1256.25L308 1245" stroke-width="1.26"/>
<path d="M370.75 1256.25L370.75 1245" stroke-width="1.26"/>
<rect x="528.75" y="1288" width="131.25" height="14.45" stroke-width="1.68" fill="#fff"/>
<path d="M528.75 1299.25L660 1299.25" stroke-width="1.68"/>
<path d="M531.75 1293.62L657 1293.62" stroke-width="0.84" stroke="#555"/>
<path d="M531.75 1299.25L531.75 1288" stroke-width="1.26"/>
<path d="M657 1299.25L657 1288" stroke-width="1.26"/>
<rect x="591.38" y="1290" width="6" height="8.45"/>
<path d="M398.6 121.5L398.6 432.6" stroke-width="2.03"/>
<path d="M406.4 121.5L406.4 432.6" stroke-width="2.8"/>
<path d="M414.6 121.5L414.6 432.6" stroke-width="2.03"/>
<path d="M398.6 432.6L414.6 432.6" stroke-width="2.03"/>
<path d="M398.6 489.3L398.6 627.5" stroke-width="2.03"/>
<path d="M406.4 489.3L406.4 627.5" stroke-width="2.8"/>
<path d="M414.6 489.3L414.6 627.5" stroke-width="2.03"/>
<path d="M398.6 489.3L414.6 489.3" stroke-width="2.03"/>
<path d="M398.6 627.5L414.6 627.5" stroke-width="2.03"/>
<path d="M398.6 685L398.6 793.5" stroke-width="2.03"/>
<path d="M406.4 685L406.4 793.5" stroke-width="2.8"/>
<path d="M414.6 685L414.6 793.5" stroke-width="2.03"/>
<path d="M398.6 685L414.6 685" stroke-width="2.03"/>
<path d="M398.6 793.5L414.6 793.5" stroke-width="2.03"/>
<path d="M398.6 850.5L398.6 905" stroke-width="2.03"/>
<path d="M406.4 850.5L406.4 905" stroke-width="2.8"/>
<path d="M414.6 850.5L414.6 905" stroke-width="2.03"/>
<path d="M398.6 850.5L414.6 850.5" stroke-width="2.03"/>
<path d="M398.6 905L414.6 905" stroke-width="2.03"/>
<rect x="398.6" y="905" width="16" height="8" fill="#fff"/>
<path d="M398.6 907L414.6 907" stroke-width="0.77"/>
<path d="M398.6 909L414.6 909" stroke-width="0.77"/>
<path d="M398.6 911L414.6 911" stroke-width="0.77"/>
<rect x="123.5" y="121.7" width="85.2" height="126.1" stroke-width="2.03"/>
<path d="M207.5 121.7L207.5 247.8" stroke-width="3.08"/>
<path d="M123.5 246.6L208.7 246.6" stroke-width="3.08"/>
<rect x="127.5" y="125.7" width="76.8" height="119.5" stroke-width="2.38" rx="3"/>
<rect x="130" y="128" width="71.8" height="114.7" stroke-width="0.98" stroke="#666" rx="2"/>
<ellipse cx="166.1" cy="222.3" rx="3.4" ry="3.4" stroke-width="2.24"/>
<ellipse cx="165.7" cy="239.7" rx="2.6" ry="2.6" stroke-width="1.26"/>
<rect x="164.2" y="243" width="3" height="5" stroke-width="1.12" fill="#111"/>
<rect x="123.5" y="247.8" width="90.4" height="11.3" stroke-width="2.03"/>
<ellipse cx="183.5" cy="253.6" rx="1.2" ry="1.2" stroke-width="0.84"/>
<path d="M93 273L287.8 273"/>
<path d="M213 270L213 276"/>
<path d="M121.5 275L125.5 271" stroke-width="1.12"/>
<path d="M211 275L215 271" stroke-width="1.12"/>
<path d="M285.8 275L289.8 271" stroke-width="1.12"/>
<path d="M125.2 279 L137 279 Q141.5 296 137 313.5 L125.2 313.5" stroke-width="0.98" stroke="#333"/>
<path d="M125.2 279L125.2 313.5" stroke-width="2.24"/>
<ellipse cx="157.8" cy="296.5" rx="17.5" ry="13.2" stroke-width="0.98"/>
<ellipse cx="158.8" cy="296.5" rx="13.5" ry="9.6" stroke-width="0.84"/>
<path d="M140 284 Q143 296.5 140 309" stroke-width="1.12"/>
<ellipse cx="153.5" cy="296.5" rx="2.4" ry="2.4" stroke-width="0.98"/>
<rect x="123.5" y="325.6" width="98.2" height="6.6" stroke-width="2.03"/>
<rect x="279.1" y="325.6" width="56.6" height="6.6" stroke-width="2.03"/>
<path d="M279.1 326L230.4 297.4" stroke-width="2.38" stroke-dasharray="1.1 0.9" stroke="#222"/>
<path d="M230.4 297.4A56.48 56.48 0 0 0 222.6 326" stroke-width="1.26"/>
<rect x="289.6" y="121.7" width="107.9" height="39.2" stroke-width="1.26" stroke-dasharray="2 1"/>
<path d="M289.6 123L398 123" stroke-width="4.2"/>
<path d="M344.3 124L344.3 160.9" stroke-width="1.26" stroke-dasharray="4 3"/>
<ellipse cx="317.4" cy="142.6" rx="15.6" ry="11.6" stroke-width="1.26"/>
<ellipse cx="370.4" cy="142.6" rx="15.6" ry="11.6" stroke-width="1.26"/>
<path d="M307 121.5 L307 119 M381 121.5 L381 119" stroke-width="1.12"/>
<path d="M296.5 161L296.5 235.7"/>
<path d="M294.5 163L298.5 159" stroke-width="1.12"/>
<path d="M294.5 237.7L298.5 233.7" stroke-width="1.12"/>
<rect x="285.2" y="235.7" width="113.4" height="5.2" stroke-width="2.03"/>
<rect x="285.2" y="240.9" width="6.1" height="84.7" stroke-width="2.03"/>
<path d="M289.6 254.8L401 254.8"/>
<path d="M289.3 256.8L293.3 252.8" stroke-width="1.12"/>
<path d="M396.6 256.8L400.6 252.8" stroke-width="1.12"/>
<path d="M309.5 325.6 L309.5 259.5 L398.6 259.5" stroke-width="1.26" stroke-dasharray="5 3"/>
<path d="M312.5 325.6 L312.5 263 L398.6 263" stroke-width="1.54"/>
<rect x="392" y="325.6" width="6.6" height="6.6" stroke-width="2.03"/>
<path d="M392.5 330L343.75 358.75" stroke-width="2.38" stroke-dasharray="1.1 0.9" stroke="#222"/>
<path d="M343.75 358.75A56.6 56.6 0 0 1 335.9 330" stroke-width="1.26"/>
<rect x="123.5" y="615" width="275.1" height="7" stroke-width="2.03"/>
<path d="M398 432.8L370 482" stroke-width="2.38" stroke-dasharray="1.1 0.9" stroke="#222"/>
<path d="M370 482A56.61 56.61 0 0 0 398 489.3" stroke-width="1.26"/>
<path d="M398 627.7L370 676.5" stroke-width="2.38" stroke-dasharray="1.1 0.9" stroke="#222"/>
<path d="M370 676.5A56.26 56.26 0 0 0 398 685" stroke-width="1.26"/>
<rect x="348.75" y="700" width="49.85" height="6" stroke-width="2.03"/>
<rect x="348.75" y="706" width="6.25" height="10" stroke-width="2.03"/>
<rect x="348.75" y="773.75" width="6.25" height="81.25" stroke-width="2.03"/>
<rect x="355" y="782.5" width="43.6" height="5" stroke-width="2.03"/>
<path d="M376.5 706L376.5 782.5"/>
<path d="M380.3 706L380.3 782.5" stroke-width="1.12" stroke-dasharray="5 3"/>
<path d="M348.75 717.5L328.75 736.25L348.75 760" stroke-width="2.4" stroke-linejoin="miter"/>
<path d="M348.75 717.5L328.75 736.25L348.75 760" stroke-width="0.9" stroke="#fff"/>
<path d="M377.5 787.5L377.5 862"/>
<path d="M352 846L400 846"/>
<path d="M375.5 848L379.5 844" stroke-width="1.12"/>
<path d="M353 848L357 844" stroke-width="1.12"/>
<path d="M396.6 848L400.6 844" stroke-width="1.12"/>
<path d="M120 834.5L352 834.5"/>
<path d="M121.5 836.5L125.5 832.5" stroke-width="1.12"/>
<path d="M346.75 836.5L350.75 832.5" stroke-width="1.12"/>
<rect x="123.5" y="855" width="275.1" height="10" stroke-width="2.03"/>
<rect x="378" y="858.5" width="5" height="4.5" stroke-width="0.98"/>
<rect x="457.6" y="121.5" width="5.6" height="19" stroke-width="2.03"/>
<rect x="457.6" y="271.4" width="5.6" height="27.4" stroke-width="2.03"/>
<rect x="414.6" y="292" width="43" height="6.8" stroke-width="2.03"/>
<path d="M432.5 121.5L432.5 292" stroke-width="1.12" stroke-dasharray="5 3"/>
<path d="M435.6 121.5L435.6 292"/>
<path d="M463.2 142.4L486.2 165L463.2 190.4" stroke-width="2.4" stroke-linejoin="miter"/>
<path d="M463.2 142.4L486.2 165L463.2 190.4" stroke-width="0.9" stroke="#fff"/>
<path d="M463.2 223.4L486.2 247L463.2 270.5" stroke-width="2.4" stroke-linejoin="miter"/>
<path d="M463.2 223.4L486.2 247L463.2 270.5" stroke-width="0.9" stroke="#fff"/>
<rect x="415.8" y="415" width="4.2" height="11.4" stroke-width="2.03"/>
<path d="M420 416.6L468.5 388" stroke-width="2.38" stroke-dasharray="1.1 0.9" stroke="#222"/>
<path d="M468.5 388A56.3 56.3 0 0 1 476.3 416.6" stroke-width="1.26"/>
<path d="M413.9 794.3L441.7 843" stroke-width="2.38" stroke-dasharray="1.1 0.9" stroke="#222"/>
<path d="M441.7 843A56.08 56.08 0 0 1 413.9 850.5" stroke-width="1.26"/>
<rect x="476" y="415" width="50" height="11.4" stroke-width="2.03"/>
<rect x="481.7" y="426.4" width="7.2" height="6.2" stroke-width="2.03"/>
<path d="M488.9 432.6L516.6 480.6" stroke-width="2.38" stroke-dasharray="1.1 0.9" stroke="#222"/>
<path d="M516.6 480.6A55.42 55.42 0 0 1 488.9 489" stroke-width="1.26"/>
<rect x="422.4" y="508" width="51.8" height="40.5" stroke-width="1.82" stroke-dasharray="9 4"/>
<path d="M422.4 508L474.2 548.5" stroke-width="0.7" stroke="#555"/>
<path d="M474.2 508L422.4 548.5" stroke-width="0.7" stroke="#555"/>
<path d="M579.4 415.2L688.75 415.2" stroke-width="2.03"/>
<path d="M579.4 415.2L579.4 427.3" stroke-width="2.03"/>
<path d="M579.4 426.2L634 426.2" stroke-width="3.36"/>
<rect x="553.3" y="420.6" width="52.7" height="3.4" fill="#fff"/>
<path d="M606 419.5L634 419.5" stroke-width="1.26"/>
<path d="M634 419.5L634 427.3" stroke-width="1.26"/>
<path d="M579.4 420L606 420" stroke-width="2.8"/>
<rect x="625.3" y="427.3" width="63.45" height="5.5" stroke-width="1.54"/>
<rect x="633.4" y="433.6" width="55.35" height="103.9" stroke-width="2.03"/>
<path d="M638.6 433.6L638.6 537.5"/>
<rect x="640.3" y="436" width="45.3" height="98.6" rx="7"/>
<rect x="644.4" y="440" width="33.1" height="77" stroke-width="1.26" rx="7"/>
<rect x="642" y="438" width="41.6" height="94" stroke-width="0.7" stroke="#777" rx="8"/>
<path d="M656 448.6L667 448.6" stroke-width="1.68"/>
<path d="M661.6 443L661.6 454.5" stroke-width="1.68"/>
<rect x="683" y="472" width="2.6" height="28" fill="#333"/>
<path d="M486.4 483.5L596.7 483.5"/>
<path d="M487 485.5L491 481.5" stroke-width="1.12"/>
<path d="M594 481L594 491.6" stroke-width="1.54"/>
<rect x="482.7" y="489" width="6.6" height="65" stroke-width="2.03"/>
<rect x="489.3" y="497.6" width="65.9" height="39.4"/>
<path d="M489.3 501.4L555.2 501.4" stroke-width="1.12" stroke-dasharray="4 3"/>
<path d="M489.3 536.6L555.2 536.6" stroke-width="3.64"/>
<ellipse cx="523.2" cy="516.8" rx="15.5" ry="11" stroke-width="1.26"/>
<path d="M577 537 Q578 526 584 523 L604 523 Q610 526 611 537 Z" stroke-width="1.12"/>
<path d="M580 523.5 Q594 519 608 523.5" stroke-width="1.12"/>
<ellipse cx="594" cy="502" rx="12.6" ry="17.4" stroke-width="0.98"/>
<ellipse cx="594" cy="503.5" rx="9.3" ry="14" stroke-width="0.84"/>
<path d="M594 505 Q590.5 510 592.5 513 L595.5 513 Q597.5 510 594 505" stroke-width="0.98"/>
<path d="M577 520.5 L582 522"/>
<rect x="489.3" y="538" width="199.45" height="11" stroke-width="2.03"/>
<path d="M621 538L621 549" stroke-width="1.12"/>
<ellipse cx="571" cy="543.4" rx="1" ry="1" stroke-width="0.7"/>
<ellipse cx="595.5" cy="543.4" rx="1.3" ry="1.3" stroke-width="0.7"/>
<ellipse cx="641" cy="543.4" rx="1.3" ry="1.3" stroke-width="0.7"/>
<ellipse cx="534" cy="543.6" rx="0.8" ry="0.8" stroke-width="0.7"/>
<path d="M488.9 554.1L519.4 606" stroke-width="2.38" stroke-dasharray="1.1 0.9" stroke="#222"/>
<path d="M519.4 606A60.2 60.2 0 0 1 489.3 614.4" stroke-width="1.26"/>
<rect x="482.7" y="614.4" width="6.6" height="106.9" stroke-width="2.03"/>
<rect x="483.7" y="704" width="4.6" height="16.3" stroke-width="0.84" stroke="#888" fill="#bbb"/>
<rect x="484" y="655" width="4" height="45" stroke-width="0.84" stroke="#666"/>
<path d="M599.5 549L599.5 653"/>
<path d="M577.8 653L599.5 653"/>
<ellipse cx="599.5" cy="653" rx="1" ry="1"/>
<path d="M486.4 642.7L560 642.7"/>
<path d="M487.3 644.7L491.3 640.7" stroke-width="1.12"/>
<path d="M557.5 639L557.5 645.5" stroke-width="1.26"/>
<path d="M549.6 647 L499.6 647 L499.6 698.3 L549.6 698.3" stroke-width="2.1"/>
<path d="M549.6 647L549.6 698.3" stroke-width="1.68" stroke-dasharray="4 2.5"/>
<path d="M503.4 665.3 L503.4 657 Q503.4 651 509.4 651 L538.8 651 Q544.8 651 544.8 657 L544.8 665.3 Z" stroke-width="1.82"/>
<path d="M499.6 694.5L549.6 694.5" stroke-width="1.12"/>
<rect x="508" y="702" width="32" height="8.5" stroke-width="1.54"/>
<rect x="511.5" y="702" width="25" height="8.5" stroke-width="1.12"/>
<ellipse cx="518" cy="706.2" rx="2.4" ry="2.4" stroke-width="0.98"/>
<path d="M558 701 L558 653 L572.2 653 L572.2 658.7 L565.6 658.7 L565.6 701" stroke-width="2.03"/>
<rect x="681.4" y="653" width="7.35" height="5.7" stroke-width="2.03"/>
<path d="M572.2 653L593.8 633.3L613.6 653" stroke-width="2.4" stroke-linejoin="miter"/>
<path d="M572.2 653L593.8 633.3L613.6 653" stroke-width="0.9" stroke="#fff"/>
<path d="M640 653L660.7 633.3L681.4 653" stroke-width="2.4" stroke-linejoin="miter"/>
<path d="M640 653L660.7 633.3L681.4 653" stroke-width="0.9" stroke="#fff"/>
<path d="M565.6 680.4L688.75 680.4"/>
<path d="M565.6 684L688.75 684" stroke-width="1.12" stroke-dasharray="6 3"/>
<path d="M565.6 694.5L688.75 694.5"/>
<path d="M563.6 696.5L567.6 692.5" stroke-width="1.12"/>
<path d="M686 696.5L690 692.5" stroke-width="1.12"/>
<rect x="489.3" y="701" width="199.45" height="15" stroke-width="2.03"/>
<rect x="489.8" y="709.6" width="198.4" height="5.8" stroke-width="0.42" stroke="#aaa" fill="#cfcfcf"/>
<path d="M689 555.6L647.5 595.6" stroke-width="2.94"/>
<path d="M689 555.6L647.5 595.6" stroke-width="1.1" stroke="#fff"/>
<path d="M647.5 595.6A57.64 57.64 0 0 0 689 613.5" stroke-width="1.26"/>
<path d="M413 704L482.7 704"/>
<path d="M412.6 706L416.6 702" stroke-width="1.12"/>
<path d="M480.7 706L484.7 702" stroke-width="1.12"/>
<path d="M492 717L492 782" stroke-width="1.26" stroke-dasharray="5 3"/>
<path d="M510 717L510 782" stroke-width="1.26" stroke-dasharray="5 3"/>
<path d="M527 717L527 782" stroke-width="1.26" stroke-dasharray="5 3"/>
<path d="M545.8 717L545.8 782" stroke-width="1.26" stroke-dasharray="5 3"/>
<path d="M563.7 717L563.7 782" stroke-width="1.26" stroke-dasharray="5 3"/>
<path d="M580.6 717L580.6 782" stroke-width="1.26" stroke-dasharray="5 3"/>
<path d="M598.5 717L598.5 782" stroke-width="1.26" stroke-dasharray="5 3"/>
<path d="M615.5 717L615.5 782" stroke-width="1.26" stroke-dasharray="5 3"/>
<path d="M491.3 781.7 L615.5 781.7 L615.5 785 L678 785" stroke-width="1.26" stroke-dasharray="5 3"/>
<path d="M680.9 717L680.9 801" stroke-width="1.26" stroke-dasharray="5 3"/>
<path d="M486.4 732.5L691 732.5"/>
<path d="M487 734.5L491 730.5" stroke-width="1.12"/>
<path d="M686.75 734.5L690.75 730.5" stroke-width="1.12"/>
<path d="M504.5 748.7 L521 748.7 M516 745.5 L516 752"/>
<path d="M483.2 721.8L455.4 769.8" stroke-width="2.38" stroke-dasharray="1.1 0.9" stroke="#222"/>
<path d="M455.4 769.8A55.47 55.47 0 0 0 483.2 777.8" stroke-width="1.26"/>
<rect x="482.7" y="777.8" width="6.6" height="31.3" stroke-width="2.03"/>
<rect x="483.7" y="778.8" width="4.6" height="21.2" stroke-width="0.56" stroke="#999" fill="#bbb"/>
<rect x="482.7" y="801.3" width="206.05" height="7.8" stroke-width="2.03"/>
<path d="M489.3 801.8L688.75 801.8" stroke-width="2.8"/>
<rect x="489.8" y="803.5" width="198.4" height="4" stroke-width="0.42" stroke="#aaa" fill="#cfcfcf"/>
<path d="M536.5 800L536.5 809" stroke-width="2.24"/>
<path d="M536.5 809 Q541 830 545 848 L550 850.3" stroke-width="0.98" stroke="#444"/>
<path d="M480 835.2L690.4 835.2"/>
<path d="M482.6 822L482.6 838.5"/>
<path d="M480.6 837.2L484.6 833.2" stroke-width="1.12"/>
<path d="M686.75 837.2L690.75 833.2" stroke-width="1.12"/>
<path d="M406.25 915L406.25 1245" stroke-width="1.68" stroke-dasharray="14 6"/>
<path d="M440.5 913.75L440.5 1247.5"/>
<path d="M428.7 913.75L443.5 913.75"/>
<path d="M420 1245L443.5 1245"/>
<path d="M438.5 915.75L442.5 911.75" stroke-width="1.12"/>
<path d="M438.5 1247L442.5 1243" stroke-width="1.12"/>
<path d="M407.5 914.5 Q414 919 416.5 923" stroke-width="0.98"/>
<path d="M383.8 1222.5 L404.5 1244.5" stroke-width="0.98"/>
<path d="M404.5 1244.5 L399.5 1241.5 L402.3 1239.2 Z" stroke-width="0.7" fill="#111"/>
<path d="M482.5 1245L433.75 1197.5" stroke-width="2.94"/>
<path d="M482.5 1245L433.75 1197.5" stroke-width="1.1" stroke="#fff"/>
<path d="M433.75 1197.5A68.06 68.06 0 0 0 413.75 1250" stroke-width="1.26"/>
<path d="M149.5 1070L149.5 1245"/>
<path d="M147.5 1247L151.5 1243" stroke-width="1.12"/>
<rect x="692.5" y="896.5" width="6.5" height="25.5" stroke-width="1.26" fill="#fff"/>
<path d="M694 900 Q697.5 909 694 918" stroke-width="0.84"/>
<path d="M166 886.25L335 886.25"/>
<path d="M145 907.5L230 907.5"/>
<path d="M283.75 907.5L335 907.5"/>
<path d="M166 865L166 886.25"/>
<path d="M187.5 865L187.5 886.25"/>
<path d="M230 865L230 886.25"/>
<path d="M283.75 865L283.75 886.25"/>
<path d="M187.5 886.25L187.5 907.5"/>
<path d="M325 865L325 907.5"/>
<path d="M335 865L335 908.75" stroke-width="1.68"/>
<path d="M230 886.25L230 912.5"/>
<path d="M283.75 886.25L283.75 912.5"/>
<path d="M166 886.25L145 907.5"/>
<path d="M145 907.5L145 1071"/>
<path d="M166 907.5L166 1022.5"/>
<path d="M123.5 907.5L145 907.5"/>
<path d="M231 888 L231 908.5 L282.75 908.5 L282.75 888" stroke-width="2.24"/>
<path d="M233.5 888 Q233 893 235 897 M280.3 888 Q280.8 893 278.8 897" stroke-width="1.12"/>
<ellipse cx="243.75" cy="900" rx="7.2" ry="7.2" stroke-width="1.26"/>
<ellipse cx="268.75" cy="900" rx="7.2" ry="7.2" stroke-width="1.26"/>
<path d="M251 900L261.5 900" stroke-width="1.12"/>
<rect x="234" y="908.5" width="46" height="4" stroke-width="1.68"/>
<path d="M236 911.5L278 911.5" stroke-width="2.52"/>
<rect x="335" y="867.5" width="58.75" height="41.25" stroke-width="1.82" stroke-dasharray="6 3"/>
<rect x="335" y="908.75" width="58.75" height="16.25" stroke-width="1.68"/>
<path d="M335 921.5L393.75 921.5" stroke-width="1.26"/>
<path d="M353 925 L353 927.5 L356 927.5 L356 925 M359 925 L359 927.5 L362 927.5 L362 925" stroke-width="1.26"/>
<path d="M145 928.75L166 928.75"/>
<path d="M123.5 960L166 960"/>
<path d="M123.5 1022.5L166 1022.5"/>
<path d="M123.5 1071L166 1071"/>
<path d="M166 1067.5L166 1071"/>
<path d="M145.5 969 L163.75 969 L163.75 1015 L151 1015" stroke-width="2.1"/>
<path d="M147 972 L160 972 L160 1012 L152 1012" stroke-width="1.12"/>
<ellipse cx="146.25" cy="1008.25" rx="5.5" ry="5.5" stroke-width="1.96"/>
<ellipse cx="146.25" cy="1008.25" rx="2.2" ry="2.2" stroke-width="0.98"/>
<rect x="145" y="1023.75" width="25" height="43.75" stroke-width="1.82"/>
<path d="M170 1026 Q175.5 1045.6 170 1065" stroke-width="1.26"/>
<path d="M149.5 1067.5L149.5 1071"/>
<path d="M163.75 995.75L240 995.75"/>
<path d="M164 997.75L168 993.75" stroke-width="1.12"/>
<path d="M234.25 997.75L238.25 993.75" stroke-width="1.12"/>
<path d="M311.25 906L311.25 983.75"/>
<path d="M309.25 909.5L313.25 905.5" stroke-width="1.12"/>
<path d="M309.25 985.75L313.25 981.75" stroke-width="1.12"/>
<path d="M236.25 983.75L375 983.75" stroke-width="1.68" stroke-dasharray="3 1.5"/>
<path d="M236.25 1026.25L375 1026.25" stroke-width="1.82"/>
<path d="M236.25 983.75L236.25 1026.25" stroke-dasharray="3 2"/>
<path d="M375 983.75L375 1026.25" stroke-dasharray="3 2"/>
<rect x="242.5" y="983.75" width="127.5" height="42.5" stroke-width="1.68"/>
<path d="M285 983.75L285 1026.25"/>
<path d="M327.5 983.75L327.5 1026.25"/>
<path d="M235 1026.25 L235 1040 Q235 1047.5 243 1047.5 L368.25 1047.5 Q376.25 1047.5 376.25 1040 L376.25 1026.25" stroke-width="1.26" stroke-dasharray="7 4"/>
<path d="M700 451.75L731.8 451.75" stroke-width="2.03"/>
<path d="M700 459.8L731.8 459.8" stroke-width="2.03"/>
<path d="M731.8 448.2L731.8 459.8" stroke-width="2.03"/>
<path d="M731.8 448.2L800.2 448.2"/>
<path d="M800.2 448.2L800.2 459.8" stroke-width="2.03"/>
<path d="M800.2 451.75L956.5 451.75" stroke-width="2.03"/>
<path d="M800.2 459.8L956.5 459.8" stroke-width="2.03"/>
<path d="M731.8 459.8L780.4 507.9" stroke-width="2.94"/>
<path d="M731.8 459.8L780.4 507.9" stroke-width="1.1" stroke="#fff"/>
<path d="M780.4 507.9A68.38 68.38 0 0 0 800.2 459.8" stroke-width="1.26"/>
<path d="M951.5 459.8L951.5 950" stroke-width="1.68" stroke-dasharray="12 4.5"/>
<rect x="951.9" y="457" width="4.6" height="2.8"/>
<rect x="951.9" y="950.2" width="4.6" height="2.8"/>
<rect x="811" y="626.75" width="40" height="53.85" stroke-width="1.82" stroke-dasharray="12 5"/>
<path d="M811 626.75L851 680.6" stroke-width="0.7" stroke="#555"/>
<path d="M851 626.75L811 680.6" stroke-width="0.7" stroke="#555"/>
<path d="M742.75 950 L742.75 790.7 L919.5 790.7 L919.5 950" stroke-width="1.12" stroke-dasharray="5 3" stroke="#333"/>
<rect x="700.4" y="950.2" width="43.3" height="10" stroke-width="2.03"/>
<path d="M702.8 950.2L702.8 960.2" stroke-width="1.26"/>
<path d="M705.2 950.2L705.2 960.2" stroke-width="1.26"/>
<path d="M707.6 950.2L707.6 960.2" stroke-width="1.26"/>
<path d="M736.6 950.2L736.6 960.2" stroke-width="1.26"/>
<path d="M739 950.2L739 960.2" stroke-width="1.26"/>
<path d="M741.4 950.2L741.4 960.2" stroke-width="1.26"/>
<path d="M743.7 955.3L918.3 955.3" stroke-width="1.26" stroke-dasharray="5 3"/>
<path d="M743.7 960.2L918.3 960.2" stroke-width="1.26" stroke-dasharray="5 3"/>
<path d="M956.5 950.2 L918.3 950.2 L918.3 960.2 L956.5 960.2" stroke-width="2.03"/>
<path d="M920.6 950.2L920.6 960.2" stroke-width="1.26"/>
<path d="M923 950.2L923 960.2" stroke-width="1.26"/>
<path d="M925.4 950.2L925.4 960.2" stroke-width="1.26"/>
<path d="M731 928.5 L724.85 928.5 L724.85 948.5"/>
<path d="M724.85 950 L723 944.5 L726.7 944.5 Z" stroke-width="0.7" fill="#111"/>
<path d="M693.8 983.5L739.4 983.5"/>
<path d="M700.4 973L700.4 1020" stroke-width="2.24"/>
<path d="M700.4 996.4L956.5 996.4"/>
<path d="M829.8 973.4L829.8 998.5" stroke-width="1.54"/>
<path d="M700.4 1017.7L956.5 1017.7"/>
<path d="M698.4 998.4L702.4 994.4" stroke-width="1.12"/>
<path d="M827.8 998.4L831.8 994.4" stroke-width="1.12"/>
<path d="M698.4 1019.7L702.4 1015.7" stroke-width="1.12"/>
<path d="M699 395.8L956.5 395.8"/>
<path d="M765.4 393L765.4 407" stroke-width="1.68"/>
<path d="M693 420L956.5 420"/>
<path d="M700 415.6L738.5 415.6"/>
<path d="M700 426L738 426"/>
<path d="M737.2 110L737.2 426"/>
<path d="M712 112.5L740 112.5"/>
<path d="M705 121.5L740 121.5"/>
<path d="M735.2 114.5L739.2 110.5" stroke-width="1.12"/>
<path d="M735.2 123.5L739.2 119.5" stroke-width="1.12"/>
<path d="M698 397.8L702 393.8" stroke-width="1.12"/>
<path d="M763.4 397.8L767.4 393.8" stroke-width="1.12"/>
<path d="M698 422L702 418" stroke-width="1.12"/>
</g>
<g class="k">
<path d="M16.25 109L16.25 1303"/>
<path d="M32.5 109L32.5 1259"/>
<path d="M55.5 109L55.5 1303"/>
<path d="M80.5 109L80.5 1259"/>
<path d="M11.25 111.5L99.75 111.5"/>
<path d="M77.5 121.5L109.75 121.5"/>
<path d="M77 248.75L109.75 248.75"/>
<path d="M77 259L109.75 259"/>
<path d="M77 326L109.75 326"/>
<path d="M77 332.5L109.75 332.5"/>
<path d="M77 615L109.75 615"/>
<path d="M77 622L109.75 622"/>
<path d="M77 855L109.75 855"/>
<path d="M77 865L109.75 865"/>
<path d="M77 1245L109.75 1245"/>
<path d="M29 1256.25L99.75 1256.25"/>
<path d="M11.25 1299.5L99.75 1299.5"/>
<path d="M55.5 473.5L66 473.5"/>
<path d="M55.5 713.75L66 713.75"/>
<path d="M55.5 992.5L66 992.5"/>
<path d="M14.25 113.5L18.25 109.5" stroke-width="1.12"/>
<path d="M14.25 1301.5L18.25 1297.5" stroke-width="1.12"/>
<path d="M30.5 113.5L34.5 109.5" stroke-width="1.12"/>
<path d="M30.5 1258.25L34.5 1254.25" stroke-width="1.12"/>
<path d="M53.5 113.5L57.5 109.5" stroke-width="1.12"/>
<path d="M53.5 475.5L57.5 471.5" stroke-width="1.12"/>
<path d="M53.5 715.75L57.5 711.75" stroke-width="1.12"/>
<path d="M53.5 994.5L57.5 990.5" stroke-width="1.12"/>
<path d="M53.5 1258.25L57.5 1254.25" stroke-width="1.12"/>
<path d="M53.5 1301.5L57.5 1297.5" stroke-width="1.12"/>
<path d="M78.5 113.5L82.5 109.5" stroke-width="1.12"/>
<path d="M78.5 123.5L82.5 119.5" stroke-width="1.12"/>
<path d="M78.5 250.75L82.5 246.75" stroke-width="1.12"/>
<path d="M78.5 261L82.5 257" stroke-width="1.12"/>
<path d="M78.5 328L82.5 324" stroke-width="1.12"/>
<path d="M78.5 334.5L82.5 330.5" stroke-width="1.12"/>
<path d="M78.5 617L82.5 613" stroke-width="1.12"/>
<path d="M78.5 624L82.5 620" stroke-width="1.12"/>
<path d="M78.5 857L82.5 853" stroke-width="1.12"/>
<path d="M78.5 867L82.5 863" stroke-width="1.12"/>
<path d="M78.5 1247L82.5 1243" stroke-width="1.12"/>
<path d="M78.5 1258.25L82.5 1254.25" stroke-width="1.12"/>
<path d="M1907.5 109L1907.5 1303"/>
<path d="M1886 109L1886 1259"/>
<path d="M1862.5 109L1862.5 1303"/>
<path d="M1840 109L1840 1259"/>
<path d="M1912.5 111.5L1813.25 111.5"/>
<path d="M1843 121.5L1803.25 121.5"/>
<path d="M1843.5 248.75L1803.25 248.75"/>
<path d="M1843.5 259L1803.25 259"/>
<path d="M1843.5 326L1803.25 326"/>
<path d="M1843.5 332.5L1803.25 332.5"/>
<path d="M1843.5 615L1803.25 615"/>
<path d="M1843.5 622L1803.25 622"/>
<path d="M1843.5 855L1803.25 855"/>
<path d="M1843.5 865L1803.25 865"/>
<path d="M1843.5 1245L1803.25 1245"/>
<path d="M1889.5 1256.25L1813.25 1256.25"/>
<path d="M1912.5 1299.5L1813.25 1299.5"/>
<path d="M1862.5 473.5L1852 473.5"/>
<path d="M1862.5 713.75L1852 713.75"/>
<path d="M1862.5 992.5L1852 992.5"/>
<path d="M1905.5 113.5L1909.5 109.5" stroke-width="1.12"/>
<path d="M1905.5 1301.5L1909.5 1297.5" stroke-width="1.12"/>
<path d="M1884 113.5L1888 109.5" stroke-width="1.12"/>
<path d="M1884 1258.25L1888 1254.25" stroke-width="1.12"/>
<path d="M1860.5 113.5L1864.5 109.5" stroke-width="1.12"/>
<path d="M1860.5 475.5L1864.5 471.5" stroke-width="1.12"/>
<path d="M1860.5 715.75L1864.5 711.75" stroke-width="1.12"/>
<path d="M1860.5 994.5L1864.5 990.5" stroke-width="1.12"/>
<path d="M1860.5 1258.25L1864.5 1254.25" stroke-width="1.12"/>
<path d="M1860.5 1301.5L1864.5 1297.5" stroke-width="1.12"/>
<path d="M1838 113.5L1842 109.5" stroke-width="1.12"/>
<path d="M1838 123.5L1842 119.5" stroke-width="1.12"/>
<path d="M1838 250.75L1842 246.75" stroke-width="1.12"/>
<path d="M1838 261L1842 257" stroke-width="1.12"/>
<path d="M1838 328L1842 324" stroke-width="1.12"/>
<path d="M1838 334.5L1842 330.5" stroke-width="1.12"/>
<path d="M1838 617L1842 613" stroke-width="1.12"/>
<path d="M1838 624L1842 620" stroke-width="1.12"/>
<path d="M1838 857L1842 853" stroke-width="1.12"/>
<path d="M1838 867L1842 863" stroke-width="1.12"/>
<path d="M1838 1247L1842 1243" stroke-width="1.12"/>
<path d="M1838 1258.25L1842 1254.25" stroke-width="1.12"/>
<path d="M167.8 296.2L194 296.2"/>
<path d="M1725 296.2L1745 296.2"/>
<path d="M190.4 293L190.4 328.7"/>
<path d="M188.4 298.2L192.4 294.2" stroke-width="1.12"/>
<path d="M188.4 327.6L192.4 323.6" stroke-width="1.12"/>
<path d="M1728.75 293L1728.75 328.7"/>
<path d="M1726.75 298.2L1730.75 294.2" stroke-width="1.12"/>
<path d="M1726.75 327.6L1730.75 323.6" stroke-width="1.12"/>
<path d="M305.5 238L305.5 329"/>
<path d="M303.5 242.9L307.5 238.9" stroke-width="1.12"/>
<path d="M303.5 327.6L307.5 323.6" stroke-width="1.12"/>
<path d="M1616 238L1616 329"/>
<path d="M1614 242.9L1618 238.9" stroke-width="1.12"/>
<path d="M1614 327.6L1618 323.6" stroke-width="1.12"/>
<path d="M391.5 703L391.5 790"/>
<path d="M389.5 708L393.5 704" stroke-width="1.12"/>
<path d="M389.5 784.5L393.5 780.5" stroke-width="1.12"/>
<path d="M1529 703L1529 790"/>
<path d="M1527 708L1531 704" stroke-width="1.12"/>
<path d="M1527 784.5L1531 780.5" stroke-width="1.12"/>
<path d="M428.8 121.5L428.8 292"/>
<path d="M426.8 123.5L430.8 119.5" stroke-width="1.12"/>
<path d="M426.8 294L430.8 290" stroke-width="1.12"/>
<path d="M1493 121.5L1493 292"/>
<path d="M1491 123.5L1495 119.5" stroke-width="1.12"/>
<path d="M1491 294L1495 290" stroke-width="1.12"/>
<path d="M620 423.8L620 541.5" stroke-width="1.54"/>
<path d="M618 429.3L622 425.3" stroke-width="1.12"/>
<path d="M618 540L622 536" stroke-width="1.12"/>
<path d="M1302 423.8L1302 541.5" stroke-width="1.54"/>
<path d="M1300 429.3L1304 425.3" stroke-width="1.12"/>
<path d="M1300 540L1304 536" stroke-width="1.12"/>
<path d="M673.9 712.6L673.9 1290.5"/>
<ellipse cx="673.9" cy="712.6" rx="0.9" ry="0.9" stroke-width="1.26"/>
<path d="M671.9 1290L675.9 1286" stroke-width="1.12"/>
<path d="M1253.25 712.6L1253.25 1290.5"/>
<ellipse cx="1253.25" cy="712.6" rx="0.9" ry="0.9" stroke-width="1.26"/>
<path d="M1251.25 1290L1255.25 1286" stroke-width="1.12"/>
<path d="M326.5 865L326.5 907.5" stroke-width="2.1" stroke="#c9877a"/>
<path d="M1585.5 865L1585.5 907.5" stroke-width="2.52"/>
<path d="M810.6 461.7 L810.6 479.2 L815.3 479.2"/>
<path d="M1019.7 461.7 L1019.7 478 L1024.4 478"/>
<path d="M700.4 682 L716 694.5 L722 698" stroke-width="1.12"/>
<path d="M752 110L752 270.5"/>
<path d="M1157.7 110L1157.7 270.5"/>
<path d="M742 110.5L756 110.5"/>
<path d="M745 270.2L756 270.2" stroke-width="1.68"/>
<path d="M1153.5 270.2L1162 270.2" stroke-width="1.68"/>
<path d="M750 112.5L754 108.5" stroke-width="1.12"/>
<path d="M1155.7 112.5L1159.7 108.5" stroke-width="1.12"/>
<path d="M927.75 447.6L927.75 961.5" stroke-width="1.54"/>
<path d="M925 447.6L930.5 447.6"/>
<path d="M961.3 459.8 L982 498.5 L987 499.8" stroke-width="1.12"/>
<path d="M961.3 459.8 L962.2 465 L965 462.8 Z" stroke-width="0.7" fill="#111"/>
<path d="M957.5 537.1 L977 519.5 L981.5 518.5" stroke-width="1.12"/>
<path d="M961.3 950.2 L983.9 899 L987.5 898.4" stroke-width="1.12"/>
<path d="M961.3 950.2 L961.6 944.5 L964.8 946 Z" stroke-width="0.7" fill="#111"/>
<rect x="835.7" y="1299" width="232.7" height="60" stroke-width="1.47"/>
<ellipse cx="840.2" cy="1305" rx="0.7" ry="0.7" stroke-width="0.98"/>
<ellipse cx="840.2" cy="1314.75" rx="0.7" ry="0.7" stroke-width="0.98"/>
<ellipse cx="840.2" cy="1344" rx="0.7" ry="0.7" stroke-width="0.98"/>
<ellipse cx="840.2" cy="1352.8" rx="0.7" ry="0.7" stroke-width="0.98"/>
<path d="M924 1246.9L980 1246.9" stroke-width="1.82"/>
<path d="M247 1372.5L300 1372.5" stroke-width="1.82"/>
<path d="M1577 1372.5L1632 1372.5" stroke-width="1.82"/>
<path d="M1138.7 109.6L1138.7 452"/>
<path d="M1136 111.5L1172 111.5"/>
<path d="M1136.7 113.5L1140.7 109.5" stroke-width="1.12"/>
<path d="M1136.7 453.7L1140.7 449.7" stroke-width="1.12"/>
<path d="M1181.4 958L1181.4 1299.5"/>
<path d="M1179.4 1301.5L1183.4 1297.5" stroke-width="1.12"/>
<path d="M1179.4 962.2L1183.4 958.2" stroke-width="1.12"/>
<path d="M1398.75 1242.5L1398.75 1291"/>
<path d="M1396.75 1247L1400.75 1243" stroke-width="1.12"/>
<path d="M1396.75 1290L1400.75 1286" stroke-width="1.12"/>
</g>
<g>
<text class="d" transform="translate(406 10) scale(0.8 1)" y="3.29" text-anchor="middle">27'-7 1/2"</text>
<text class="d" transform="translate(1507 10) scale(0.8 1)" y="3.29" text-anchor="middle">27'-7 1/2"</text>
<text class="d" transform="translate(259 30) scale(0.8 1)" y="3.29" text-anchor="middle">13'-9"</text>
<text class="d" transform="translate(1654 30) scale(0.8 1)" y="3.29" text-anchor="middle">13'-9"</text>
<text class="d" transform="translate(431 30) scale(0.8 1)" y="3.29" text-anchor="middle">1 1/2"</text>
<text class="d" transform="translate(1482 30) scale(0.8 1)" y="3.29" text-anchor="middle">1 1/2"</text>
<text class="d" transform="translate(553 30) scale(0.8 1)" y="3.29" text-anchor="middle">13'-9"</text>
<text class="d" transform="translate(1360 30) scale(0.8 1)" y="3.29" text-anchor="middle">13'-9"</text>
<text class="d" transform="translate(259 45) scale(0.8 1)" y="3.29" text-anchor="middle">MODULE "A"</text>
<text class="d" transform="translate(553 45) scale(0.8 1)" y="3.29" text-anchor="middle">MODULE "B"</text>
<text class="d" transform="translate(1654 45) scale(0.8 1)" y="3.29" text-anchor="middle">MODULE "D"</text>
<text class="d" transform="translate(1360 45) scale(0.8 1)" y="3.29" text-anchor="middle">MODULE "C"</text>
<text class="d" transform="translate(181 53) scale(0.8 1)" y="3.29" text-anchor="middle">6'-4 3/4"</text>
<text class="d" transform="translate(1732 53) scale(0.8 1)" y="3.29" text-anchor="middle">6'-4 3/4"</text>
<text class="d" transform="translate(412 53) scale(0.8 1)" y="3.29" text-anchor="middle">15'-5 1/4"</text>
<text class="d" transform="translate(1501 53) scale(0.8 1)" y="3.29" text-anchor="middle">15'-5 1/4"</text>
<text class="d" transform="translate(638 53) scale(0.8 1)" y="3.29" text-anchor="middle">5'-9 1/2"</text>
<text class="d" transform="translate(1275 53) scale(0.8 1)" y="3.29" text-anchor="middle">5'-9 1/2"</text>
<text class="d" transform="translate(142 74) scale(0.8 1)" y="3.29" text-anchor="middle">5 5/8"</text>
<text class="d" transform="translate(1771 74) scale(0.8 1)" y="3.29" text-anchor="middle">5 5/8"</text>
<text class="d" transform="translate(260 74) scale(0.8 1)" y="3.29" text-anchor="middle">12'-11 3/8"</text>
<text class="d" transform="translate(1653 74) scale(0.8 1)" y="3.29" text-anchor="middle">12'-11 3/8"</text>
<text class="d" transform="translate(380 74) scale(0.8 1)" y="3.29" text-anchor="middle">4"</text>
<text class="d" transform="translate(1533 74) scale(0.8 1)" y="3.29" text-anchor="middle">4"</text>
<text class="d" transform="translate(432 74) scale(0.8 1)" y="3.29" text-anchor="middle">4"</text>
<text class="d" transform="translate(1481 74) scale(0.8 1)" y="3.29" text-anchor="middle">4"</text>
<text class="d" transform="translate(481 74) scale(0.8 1)" y="3.29" text-anchor="middle">4"</text>
<text class="d" transform="translate(1432 74) scale(0.8 1)" y="3.29" text-anchor="middle">4"</text>
<text class="d" transform="translate(576 74) scale(0.8 1)" y="3.29" text-anchor="middle">10'-7"</text>
<text class="d" transform="translate(1337 74) scale(0.8 1)" y="3.29" text-anchor="middle">10'-7"</text>
<text class="d" transform="translate(676 74) scale(0.8 1)" y="3.29" text-anchor="middle">6"</text>
<text class="d" transform="translate(1237 74) scale(0.8 1)" y="3.29" text-anchor="middle">6"</text>
<text class="d" transform="translate(435 89) scale(0.8 1)" y="3.29" text-anchor="middle">2'-0"</text>
<text class="d" transform="translate(1478 89) scale(0.8 1)" y="3.29" text-anchor="middle">2'-0"</text>
<text class="d" transform="translate(249 92) scale(0.87 1)" y="3.29" text-anchor="middle">RO: 30 x 37 1/2</text>
<text class="d" transform="translate(1664 92) scale(0.87 1)" y="3.29" text-anchor="middle">RO: 30 x 37 1/2</text>
<text class="d" transform="translate(249 102) scale(0.8 1)" y="3.29" text-anchor="middle">W24210</text>
<text class="d" transform="translate(1664 102) scale(0.8 1)" y="3.29" text-anchor="middle">W24210</text>
<text class="d" transform="translate(576 92) scale(0.88 1)" y="3.29" text-anchor="middle">RO: 74 1/4 x 61 1/2</text>
<text class="d" transform="translate(1337 92) scale(0.88 1)" y="3.29" text-anchor="middle">RO: 74 1/4 x 61 1/2</text>
<text class="d" transform="translate(576 102) scale(0.87 1)" y="3.29" text-anchor="middle">W30410-2</text>
<text class="d" transform="translate(1337 102) scale(0.87 1)" y="3.29" text-anchor="middle">W30410-2</text>
<text class="d" transform="translate(726 10) scale(0.8 1)" y="3.29" text-anchor="middle">1 1/2"</text>
<text class="d" transform="translate(1187 10) scale(0.8 1)" y="3.29" text-anchor="middle">1 1/2"</text>
<text class="d" transform="translate(957 10) scale(0.8 1)" y="3.29" text-anchor="middle">24'-0"</text>
<text class="d" transform="translate(73 141) rotate(-90) scale(0.8 1)" y="3.29" text-anchor="middle">5 5/8"</text>
<text class="d" transform="translate(1833 141) rotate(-90) scale(0.8 1)" y="3.29" text-anchor="middle">5 5/8"</text>
<text class="d" transform="translate(73 190) rotate(-90) scale(0.8 1)" y="3.29" text-anchor="middle">6'-0"</text>
<text class="d" transform="translate(1833 190) rotate(-90) scale(0.8 1)" y="3.29" text-anchor="middle">6'-0"</text>
<text class="d" transform="translate(73 237) rotate(-90) scale(0.8 1)" y="3.29" text-anchor="middle">6"</text>
<text class="d" transform="translate(1833 237) rotate(-90) scale(0.8 1)" y="3.29" text-anchor="middle">6"</text>
<text class="d" transform="translate(73 292) rotate(-90) scale(0.8 1)" y="3.29" text-anchor="middle">3'-1 1/8"</text>
<text class="d" transform="translate(1833 292) rotate(-90) scale(0.8 1)" y="3.29" text-anchor="middle">3'-1 1/8"</text>
<text class="d" transform="translate(73 345) rotate(-90) scale(0.8 1)" y="3.29" text-anchor="middle">4"</text>
<text class="d" transform="translate(1833 345) rotate(-90) scale(0.8 1)" y="3.29" text-anchor="middle">4"</text>
<text class="d" transform="translate(73 474) rotate(-90) scale(0.8 1)" y="3.29" text-anchor="middle">13'-4"</text>
<text class="d" transform="translate(1833 474) rotate(-90) scale(0.8 1)" y="3.29" text-anchor="middle">13'-4"</text>
<text class="d" transform="translate(73 640) rotate(-90) scale(0.8 1)" y="3.29" text-anchor="middle">4"</text>
<text class="d" transform="translate(1833 640) rotate(-90) scale(0.8 1)" y="3.29" text-anchor="middle">4"</text>
<text class="d" transform="translate(73 737) rotate(-90) scale(0.8 1)" y="3.29" text-anchor="middle">11'-0"</text>
<text class="d" transform="translate(1833 737) rotate(-90) scale(0.8 1)" y="3.29" text-anchor="middle">11'-0"</text>
<text class="d" transform="translate(73 877.5) rotate(-90) scale(0.8 1)" y="3.29" text-anchor="middle">6"</text>
<text class="d" transform="translate(1833 877.5) rotate(-90) scale(0.8 1)" y="3.29" text-anchor="middle">6"</text>
<text class="d" transform="translate(73 1056) rotate(-90) scale(0.8 1)" y="3.29" text-anchor="middle">17'-11 1/4"</text>
<text class="d" transform="translate(1833 1056) rotate(-90) scale(0.8 1)" y="3.29" text-anchor="middle">17'-11 1/4"</text>
<text class="d" transform="translate(73 1233.75) rotate(-90) scale(0.8 1)" y="3.29" text-anchor="middle">6"</text>
<text class="d" transform="translate(1833 1233.75) rotate(-90) scale(0.8 1)" y="3.29" text-anchor="middle">6"</text>
<text class="d" transform="translate(48.5 292) rotate(-90) scale(0.8 1)" y="3.29" text-anchor="middle">17'-0 3/4"</text>
<text class="d" transform="translate(1855.5 292) rotate(-90) scale(0.8 1)" y="3.29" text-anchor="middle">17'-0 3/4"</text>
<text class="d" transform="translate(48.5 594) rotate(-90) scale(0.8 1)" y="3.29" text-anchor="middle">11'-3 3/4"</text>
<text class="d" transform="translate(1855.5 594) rotate(-90) scale(0.8 1)" y="3.29" text-anchor="middle">11'-3 3/4"</text>
<text class="d" transform="translate(48.5 852.5) rotate(-90) scale(0.8 1)" y="3.29" text-anchor="middle">13'-2 1/4"</text>
<text class="d" transform="translate(1855.5 852.5) rotate(-90) scale(0.8 1)" y="3.29" text-anchor="middle">13'-2 1/4"</text>
<text class="d" transform="translate(48.5 1123) rotate(-90) scale(0.8 1)" y="3.29" text-anchor="middle">12'-6 1/4"</text>
<text class="d" transform="translate(1855.5 1123) rotate(-90) scale(0.8 1)" y="3.29" text-anchor="middle">12'-6 1/4"</text>
<text class="d" transform="translate(48.5 1277.5) rotate(-90) scale(0.8 1)" y="3.29" text-anchor="middle">2'-0"</text>
<text class="d" transform="translate(1855.5 1277.5) rotate(-90) scale(0.8 1)" y="3.29" text-anchor="middle">2'-0"</text>
<text class="d" transform="translate(26.5 684) rotate(-90) scale(0.8 1)" y="3.29" text-anchor="middle">54'-0"</text>
<text class="d" transform="translate(1879 684) rotate(-90) scale(0.8 1)" y="3.29" text-anchor="middle">54'-0"</text>
<text class="d" transform="translate(9 705) rotate(-90) scale(0.8 1)" y="3.29" text-anchor="middle">56'-0"</text>
<text class="d" transform="translate(1900.5 705) rotate(-90) scale(0.8 1)" y="3.29" text-anchor="middle">56'-0"</text>
<text class="d" transform="translate(94 474) rotate(-90) scale(0.88 1)" y="3.29" text-anchor="middle">RO: 74 1/4 x 61 1/2</text>
<text class="d" transform="translate(1819 474) rotate(-90) scale(0.88 1)" y="3.29" text-anchor="middle">RO: 74 1/4 x 61 1/2</text>
<text class="d" transform="translate(105 474) rotate(-90) scale(0.87 1)" y="3.29" text-anchor="middle">W30410-2</text>
<text class="d" transform="translate(1808 474) rotate(-90) scale(0.87 1)" y="3.29" text-anchor="middle">W30410-2</text>
<text class="d" transform="translate(133.5 474) rotate(-90) scale(0.81 1)" y="3.29" text-anchor="middle">(2) 2x6 SPF#2 HDR</text>
<text class="d" transform="translate(1779.5 474) rotate(-90) scale(0.81 1)" y="3.29" text-anchor="middle">(2) 2x6 SPF#2 HDR</text>
<text class="d" transform="translate(94.5 713.75) rotate(-90) scale(0.84 1)" y="3.29" text-anchor="middle">RO: 38 x 61 1/2</text>
<text class="d" transform="translate(1818.5 713.75) rotate(-90) scale(0.84 1)" y="3.29" text-anchor="middle">RO: 38 x 61 1/2</text>
<text class="d" transform="translate(105 713.75) rotate(-90) scale(0.85 1)" y="3.29" text-anchor="middle">W30410</text>
<text class="d" transform="translate(1808 713.75) rotate(-90) scale(0.85 1)" y="3.29" text-anchor="middle">W30410</text>
<text class="d" transform="translate(135 711) rotate(-90) scale(0.81 1)" y="3.29" text-anchor="middle">(2) 2x6 SPF#2 HDR</text>
<text class="d" transform="translate(1778 711) rotate(-90) scale(0.81 1)" y="3.29" text-anchor="middle">(2) 2x6 SPF#2 HDR</text>
<text class="d" transform="translate(94.5 992.5) rotate(-90) scale(0.87 1)" y="3.29" text-anchor="middle">RO: 30 x 37 1/2</text>
<text class="d" transform="translate(1818.5 992.5) rotate(-90) scale(0.87 1)" y="3.29" text-anchor="middle">RO: 30 x 37 1/2</text>
<text class="d" transform="translate(105 992.5) rotate(-90) scale(0.85 1)" y="3.29" text-anchor="middle">W24210</text>
<text class="d" transform="translate(1808 992.5) rotate(-90) scale(0.85 1)" y="3.29" text-anchor="middle">W24210</text>
<text class="d" transform="translate(133.75 991) rotate(-90) scale(0.81 1)" y="3.29" text-anchor="middle">(2) 2x6 SPF#2 HDR</text>
<text class="d" transform="translate(1779.25 991) rotate(-90) scale(0.81 1)" y="3.29" text-anchor="middle">(2) 2x6 SPF#2 HDR</text>
<text class="d" transform="translate(189.5 1265) scale(0.85 1)" y="3.29" text-anchor="middle">W30410</text>
<text class="d" transform="translate(1723.5 1265) scale(0.85 1)" y="3.29" text-anchor="middle">W30410</text>
<text class="d" transform="translate(189.5 1276.75) scale(0.87 1)" y="3.29" text-anchor="middle">RO: 38 x 61 1/2</text>
<text class="d" transform="translate(1723.5 1276.75) scale(0.87 1)" y="3.29" text-anchor="middle">RO: 38 x 61 1/2</text>
<text class="d" transform="translate(339.5 1265) scale(0.85 1)" y="3.29" text-anchor="middle">W30410</text>
<text class="d" transform="translate(1573.5 1265) scale(0.85 1)" y="3.29" text-anchor="middle">W30410</text>
<text class="d" transform="translate(339.5 1276.75) scale(0.87 1)" y="3.29" text-anchor="middle">RO: 38 x 61 1/2</text>
<text class="d" transform="translate(1573.5 1276.75) scale(0.87 1)" y="3.29" text-anchor="middle">RO: 38 x 61 1/2</text>
<text class="d" transform="translate(449 1265) scale(0.8 1)" y="3.29" text-anchor="middle">3-0</text>
<text class="d" transform="translate(1464 1265) scale(0.8 1)" y="3.29" text-anchor="middle">3-0</text>
<text class="d" transform="translate(449 1276.75) scale(0.88 1)" y="3.29" text-anchor="middle">RO: 38 1/2 x 82 1/2</text>
<text class="d" transform="translate(1464 1276.75) scale(0.88 1)" y="3.29" text-anchor="middle">RO: 38 1/2 x 82 1/2</text>
<text class="d" transform="translate(340 1238.75) scale(0.86 1)" y="3.29" text-anchor="middle">TEMPERED</text>
<text class="d" transform="translate(1573 1238.75) scale(0.86 1)" y="3.29" text-anchor="middle">TEMPERED</text>
<text class="d" transform="translate(136 1292.5) scale(0.8 1)" y="3.29" text-anchor="middle">6"</text>
<text class="d" transform="translate(1777 1292.5) scale(0.8 1)" y="3.29" text-anchor="middle">6"</text>
<text class="d" transform="translate(307 1292.5) scale(0.8 1)" y="3.29" text-anchor="middle">17'-3"</text>
<text class="d" transform="translate(1606 1292.5) scale(0.8 1)" y="3.29" text-anchor="middle">17'-3"</text>
<text class="d" transform="translate(150.75 1310) scale(0.8 1)" y="3.29" text-anchor="middle">3'-7"</text>
<text class="d" transform="translate(1762.25 1310) scale(0.8 1)" y="3.29" text-anchor="middle">3'-7"</text>
<text class="d" transform="translate(264.25 1310) scale(0.8 1)" y="3.29" text-anchor="middle">7'-1"</text>
<text class="d" transform="translate(1648.75 1310) scale(0.8 1)" y="3.29" text-anchor="middle">7'-1"</text>
<text class="d" transform="translate(394.25 1310) scale(0.8 1)" y="3.29" text-anchor="middle">5'-1 3/4"</text>
<text class="d" transform="translate(1518.75 1310) scale(0.8 1)" y="3.29" text-anchor="middle">5'-1 3/4"</text>
<text class="d" transform="translate(469.25 1309.5) scale(0.89 1)" y="3.29" text-anchor="middle">1'-11 1/4"</text>
<text class="d" transform="translate(1443.75 1309.5) scale(0.89 1)" y="3.29" text-anchor="middle">1'-11 1/4"</text>
<text class="d" transform="translate(594.5 1308) scale(0.87 1)" y="3.29" text-anchor="middle">W30410-2</text>
<text class="d" transform="translate(1318.5 1308) scale(0.87 1)" y="3.29" text-anchor="middle">W30410-2</text>
<text class="d" transform="translate(594.5 1319) scale(0.88 1)" y="3.29" text-anchor="middle">RO: 74 1/4 x 61 1/2</text>
<text class="d" transform="translate(1318.5 1319) scale(0.88 1)" y="3.29" text-anchor="middle">RO: 74 1/4 x 61 1/2</text>
<text class="d" transform="translate(512.5 1335.5) scale(0.8 1)" y="3.29" text-anchor="middle">6"</text>
<text class="d" transform="translate(1400.5 1335.5) scale(0.8 1)" y="3.29" text-anchor="middle">6"</text>
<text class="d" transform="translate(594.5 1335.5) scale(0.8 1)" y="3.29" text-anchor="middle">8'-10 1/2"</text>
<text class="d" transform="translate(1318.5 1335.5) scale(0.8 1)" y="3.29" text-anchor="middle">8'-10 1/2"</text>
<text class="d" transform="translate(676 1335.5) scale(0.8 1)" y="3.29" text-anchor="middle">6"</text>
<text class="d" transform="translate(1237 1335.5) scale(0.8 1)" y="3.29" text-anchor="middle">6"</text>
<text class="d" transform="translate(542 1353.75) scale(0.8 1)" y="3.29" text-anchor="middle">4'-11 1/4"</text>
<text class="d" transform="translate(1371 1353.75) scale(0.8 1)" y="3.29" text-anchor="middle">4'-11 1/4"</text>
<text class="d" transform="translate(647 1353.75) scale(0.8 1)" y="3.29" text-anchor="middle">4'-11 1/4"</text>
<text class="d" transform="translate(1266 1353.75) scale(0.8 1)" y="3.29" text-anchor="middle">4'-11 1/4"</text>
<text class="d" transform="translate(594.5 1370.5) scale(0.8 1)" y="3.29" text-anchor="middle">9'-10 1/2"</text>
<text class="d" transform="translate(1318.5 1370.5) scale(0.8 1)" y="3.29" text-anchor="middle">9'-10 1/2"</text>
<text class="U" transform="translate(273.25 1363) scale(0.87 1)" y="6.8" text-anchor="middle">UNIT A</text>
<text class="U" transform="translate(1604.5 1363) scale(0.86 1)" y="6.8" text-anchor="middle">UNIT B</text>
<text class="r" transform="translate(246 220) scale(0.86 1)" y="4.94" text-anchor="middle">BATH #1</text>
<text class="r" transform="translate(1667 220) scale(0.86 1)" y="4.94" text-anchor="middle">BATH #1</text>
<text class="d" transform="translate(141.7 185.2) rotate(-90) scale(0.87 1)" y="3.29" text-anchor="middle">CEMENT BOARD SURROUND</text>
<text class="d" transform="translate(1771.3 185.2) rotate(-90) scale(0.87 1)" y="3.29" text-anchor="middle">CEMENT BOARD SURROUND</text>
<text class="d" transform="translate(194.8 184.8) rotate(-90) scale(0.85 1)" y="3.29" text-anchor="middle">CLARION SP7248NT</text>
<text class="d" transform="translate(1718.2 184.8) rotate(-90) scale(0.85 1)" y="3.29" text-anchor="middle">CLARION SP7248NT</text>
<text class="d" transform="translate(249 127) scale(0.86 1)" y="3.29" text-anchor="middle">TEMPERED</text>
<text class="d" transform="translate(1664 127) scale(0.86 1)" y="3.29" text-anchor="middle">TEMPERED</text>
<text class="d" transform="translate(307 127.8) scale(0.8 1)" y="3.29" text-anchor="middle">AAV</text>
<text class="d" transform="translate(1606 127.8) scale(0.8 1)" y="3.29" text-anchor="middle">AAV</text>
<text class="d" transform="translate(380.9 127.8) scale(0.8 1)" y="3.29" text-anchor="middle">AAV</text>
<text class="d" transform="translate(1532.1 127.8) scale(0.8 1)" y="3.29" text-anchor="middle">AAV</text>
<text class="c" transform="translate(317.4 142.6) scale(0.82 1)" y="3.08" text-anchor="middle">VSB30</text>
<text class="c" transform="translate(1595.6 142.6) scale(0.82 1)" y="3.08" text-anchor="middle">VSB30</text>
<text class="c" transform="translate(370.4 142.6) scale(0.82 1)" y="3.08" text-anchor="middle">VSB30</text>
<text class="c" transform="translate(1542.6 142.6) scale(0.82 1)" y="3.08" text-anchor="middle">VSB30</text>
<text class="t" transform="translate(394 142.6) rotate(-90) scale(0.8 1)" y="2.51" text-anchor="middle">1/2"F</text>
<text class="t" transform="translate(1519 142.6) rotate(-90) scale(0.8 1)" y="2.51" text-anchor="middle">1/2"F</text>
<text class="d" transform="translate(343.5 169.2) scale(0.8 1)" y="3.29" text-anchor="middle">61" CT</text>
<text class="d" transform="translate(1569.5 169.2) scale(0.8 1)" y="3.29" text-anchor="middle">61" CT</text>
<text class="d" transform="translate(165.7 253.6) scale(0.8 1)" y="3.29" text-anchor="middle">2x6</text>
<text class="d" transform="translate(1747.3 253.6) scale(0.8 1)" y="3.29" text-anchor="middle">2x6</text>
<text class="d" transform="translate(188.7 253.6) scale(0.8 1)" y="3.29" text-anchor="middle">2V</text>
<text class="d" transform="translate(1724.3 253.6) scale(0.8 1)" y="3.29" text-anchor="middle">2V</text>
<text class="d" transform="translate(101 266) scale(0.8 1)" y="3.29" text-anchor="middle">6"</text>
<text class="d" transform="translate(1812 266) scale(0.8 1)" y="3.29" text-anchor="middle">6"</text>
<text class="d" transform="translate(169.6 266) scale(0.8 1)" y="3.29" text-anchor="middle">4'-2 5/8"</text>
<text class="d" transform="translate(1743.4 266) scale(0.8 1)" y="3.29" text-anchor="middle">4'-2 5/8"</text>
<text class="d" transform="translate(249.6 266) scale(0.8 1)" y="3.29" text-anchor="middle">3'-4 3/8"</text>
<text class="d" transform="translate(1663.4 266) scale(0.8 1)" y="3.29" text-anchor="middle">3'-4 3/8"</text>
<text class="d" transform="translate(144.9 320.5) scale(0.8 1)" y="3.29" text-anchor="middle">2V</text>
<text class="d" transform="translate(1768.1 320.5) scale(0.8 1)" y="3.29" text-anchor="middle">2V</text>
<text class="d" transform="translate(251.3 326) scale(0.8 1)" y="3.29" text-anchor="middle">2-6</text>
<text class="d" transform="translate(1661.7 326) scale(0.8 1)" y="3.29" text-anchor="middle">2-6</text>
<text class="d" transform="translate(344.3 248.7) scale(0.8 1)" y="3.29" text-anchor="middle">5'-0"</text>
<text class="d" transform="translate(1568.7 248.7) scale(0.8 1)" y="3.29" text-anchor="middle">5'-0"</text>
<text class="w" transform="translate(355.7 282.3) scale(0.79 1)" y="3.72" text-anchor="middle">WALK-IN</text>
<text class="w" transform="translate(1557.3 282.3) scale(0.79 1)" y="3.72" text-anchor="middle">WALK-IN</text>
<text class="w" transform="translate(355.7 293.4) scale(0.77 1)" y="3.72" text-anchor="middle">CLOSET</text>
<text class="w" transform="translate(1557.3 293.4) scale(0.77 1)" y="3.72" text-anchor="middle">CLOSET</text>
<text class="d" transform="translate(364.3 331.3) scale(0.8 1)" y="3.29" text-anchor="middle">2-6</text>
<text class="d" transform="translate(1548.7 331.3) scale(0.8 1)" y="3.29" text-anchor="middle">2-6</text>
<text class="r" transform="translate(557 255) scale(0.87 1)" y="4.94" text-anchor="middle">BEDROOM #2</text>
<text class="r" transform="translate(1346 255) scale(0.87 1)" y="4.94" text-anchor="middle">BEDROOM #2</text>
<text class="s" transform="translate(557 267.5) scale(0.96 1)" y="2.33" text-anchor="middle">AREA = 161.42 SF</text>
<text class="s" transform="translate(1346 267.5) scale(0.96 1)" y="2.33" text-anchor="middle">AREA = 161.42 SF</text>
<text class="s" transform="translate(557 276.5) scale(0.96 1)" y="2.33" text-anchor="middle">LT = 12.91 (REQD) 23.50 (PROV)</text>
<text class="s" transform="translate(1346 276.5) scale(0.96 1)" y="2.33" text-anchor="middle">LT = 12.91 (REQD) 23.50 (PROV)</text>
<text class="s" transform="translate(557 285) scale(0.96 1)" y="2.33" text-anchor="middle">VT = 6.46 (REQD) 11.68 (PROV)</text>
<text class="s" transform="translate(1346 285) scale(0.96 1)" y="2.33" text-anchor="middle">VT = 6.46 (REQD) 11.68 (PROV)</text>
<text class="r" transform="translate(265 459) scale(0.87 1)" y="4.94" text-anchor="middle">BEDROOM #1</text>
<text class="r" transform="translate(1648 459) scale(0.87 1)" y="4.94" text-anchor="middle">BEDROOM #1</text>
<text class="s" transform="translate(265 471.5) scale(0.96 1)" y="2.33" text-anchor="middle">AREA = 172.22 SF</text>
<text class="s" transform="translate(1648 471.5) scale(0.96 1)" y="2.33" text-anchor="middle">AREA = 172.22 SF</text>
<text class="s" transform="translate(265 480.5) scale(0.96 1)" y="2.33" text-anchor="middle">LT = 13.78 (REQD) 23.50 (PROV)</text>
<text class="s" transform="translate(1648 480.5) scale(0.96 1)" y="2.33" text-anchor="middle">LT = 13.78 (REQD) 23.50 (PROV)</text>
<text class="s" transform="translate(265 489) scale(0.96 1)" y="2.33" text-anchor="middle">VT = 6.89 (REQD) 11.68 (PROV)</text>
<text class="s" transform="translate(1648 489) scale(0.96 1)" y="2.33" text-anchor="middle">VT = 6.89 (REQD) 11.68 (PROV)</text>
<text class="r" transform="translate(235 714) scale(0.87 1)" y="4.94" text-anchor="middle">BEDROOM #3</text>
<text class="r" transform="translate(1676 725) scale(0.87 1)" y="4.94" text-anchor="middle">BEDROOM #3</text>
<text class="s" transform="translate(235 726.5) scale(0.96 1)" y="2.33" text-anchor="middle">AREA = 124.97 SF</text>
<text class="s" transform="translate(1676 737.5) scale(0.96 1)" y="2.33" text-anchor="middle">AREA = 124.97 SF</text>
<text class="s" transform="translate(235 735.5) scale(0.96 1)" y="2.33" text-anchor="middle">LT = 10.00 (REQD) 11.75 (PROV)</text>
<text class="s" transform="translate(1676 746.5) scale(0.96 1)" y="2.33" text-anchor="middle">LT = 10.00 (REQD) 11.75 (PROV)</text>
<text class="s" transform="translate(235 744) scale(0.96 1)" y="2.33" text-anchor="middle">VT = 5.00 (REQD) 5.84 (PROV)</text>
<text class="s" transform="translate(1676 755) scale(0.96 1)" y="2.33" text-anchor="middle">VT = 5.00 (REQD) 5.84 (PROV)</text>
<text class="d" transform="translate(680 273) rotate(-90) scale(0.81 1)" y="3.29" text-anchor="middle">(2) 2x6 SPF#2 HDR</text>
<text class="d" transform="translate(1233 273) rotate(-90) scale(0.81 1)" y="3.29" text-anchor="middle">(2) 2x6 SPF#2 HDR</text>
<text class="d" transform="translate(710 270) rotate(-90) scale(0.8 1)" y="3.29" text-anchor="middle">60 10T</text>
<text class="d" transform="translate(1203 270) rotate(-90) scale(0.8 1)" y="3.29" text-anchor="middle">60 10T</text>
<text class="d" transform="translate(720 270) rotate(-90) scale(0.85 1)" y="3.29" text-anchor="middle">RO: 60 1/2 x 12 1/2</text>
<text class="d" transform="translate(1193 270) rotate(-90) scale(0.85 1)" y="3.29" text-anchor="middle">RO: 60 1/2 x 12 1/2</text>
<text class="d" transform="translate(399 461) rotate(-90) scale(0.8 1)" y="3.29" text-anchor="middle">2-6</text>
<text class="d" transform="translate(1514 461) rotate(-90) scale(0.8 1)" y="3.29" text-anchor="middle">2-6</text>
<text class="d" transform="translate(399 656) rotate(-90) scale(0.8 1)" y="3.29" text-anchor="middle">2-6</text>
<text class="d" transform="translate(1514 656) rotate(-90) scale(0.8 1)" y="3.29" text-anchor="middle">2-6</text>
<text class="d" transform="translate(415 822) rotate(-90) scale(0.8 1)" y="3.29" text-anchor="middle">2-6</text>
<text class="d" transform="translate(1498 822) rotate(-90) scale(0.8 1)" y="3.29" text-anchor="middle">2-6</text>
<text class="d" transform="translate(448 416) scale(0.8 1)" y="3.29" text-anchor="middle">2-6</text>
<text class="d" transform="translate(1465 416) scale(0.8 1)" y="3.29" text-anchor="middle">2-6</text>
<text class="d" transform="translate(500.6 421.3) scale(0.8 1)" y="3.29" text-anchor="middle">2x6</text>
<text class="d" transform="translate(1412.4 421.3) scale(0.8 1)" y="3.29" text-anchor="middle">2x6</text>
<text class="d" transform="translate(491 461) rotate(-90) scale(0.8 1)" y="3.29" text-anchor="middle">2-6</text>
<text class="d" transform="translate(1422 461) rotate(-90) scale(0.8 1)" y="3.29" text-anchor="middle">2-6</text>
<text class="d" transform="translate(554 432.6) scale(0.8 1)" y="3.29" text-anchor="middle">2-6</text>
<text class="d" transform="translate(1359 432.6) scale(0.8 1)" y="3.29" text-anchor="middle">2-6</text>
<text class="d" transform="translate(348.75 745) rotate(-90) scale(0.8 1)" y="3.29" text-anchor="middle">2-6</text>
<text class="d" transform="translate(1564.25 745) rotate(-90) scale(0.8 1)" y="3.29" text-anchor="middle">2-6</text>
<text class="d" transform="translate(236 827.5) scale(0.8 1)" y="3.29" text-anchor="middle">10'-7"</text>
<text class="d" transform="translate(1677 827.5) scale(0.8 1)" y="3.29" text-anchor="middle">10'-7"</text>
<text class="d" transform="translate(265 860) scale(0.8 1)" y="3.29" text-anchor="middle">2x6</text>
<text class="d" transform="translate(1648 860) scale(0.8 1)" y="3.29" text-anchor="middle">2x6</text>
<text class="d" transform="translate(367.5 838.75) scale(0.8 1)" y="3.29" text-anchor="middle">2'-0"</text>
<text class="d" transform="translate(1545.5 838.75) scale(0.8 1)" y="3.29" text-anchor="middle">2'-0"</text>
<text class="d" transform="translate(447.8 696.4) scale(0.8 1)" y="3.29" text-anchor="middle">3'-2 1/2"</text>
<text class="d" transform="translate(1465.2 696.4) scale(0.8 1)" y="3.29" text-anchor="middle">3'-2 1/2"</text>
<text class="t" transform="translate(434.5 528.5) rotate(-90) scale(0.98 1)" y="2.51" text-anchor="middle">22 1/2x36</text>
<text class="t" transform="translate(447.5 528.5) rotate(-90) scale(1.01 1)" y="2.51" text-anchor="middle">ATTIC</text>
<text class="t" transform="translate(460 528.5) rotate(-90) scale(0.94 1)" y="2.51" text-anchor="middle">ACCESS</text>
<text class="t" transform="translate(1452.5 528.5) rotate(-90) scale(0.98 1)" y="2.51" text-anchor="middle">22 1/2x36</text>
<text class="t" transform="translate(1463 528.5) rotate(-90) scale(1.01 1)" y="2.51" text-anchor="middle">ATTIC</text>
<text class="t" transform="translate(1474 528.5) rotate(-90) scale(0.94 1)" y="2.51" text-anchor="middle">ACCESS</text>
<text class="r" transform="translate(563.7 447.7) scale(0.86 1)" y="4.94" text-anchor="middle">BATH #2</text>
<text class="r" transform="translate(1349.3 447.7) scale(0.86 1)" y="4.94" text-anchor="middle">BATH #2</text>
<text class="d" transform="translate(542 476) scale(0.8 1)" y="3.29" text-anchor="middle">4'-11"</text>
<text class="d" transform="translate(1371 476) scale(0.8 1)" y="3.29" text-anchor="middle">4'-11"</text>
<text class="d" transform="translate(523 492) scale(0.8 1)" y="3.29" text-anchor="middle">37" CT</text>
<text class="d" transform="translate(1390 492) scale(0.8 1)" y="3.29" text-anchor="middle">37" CT</text>
<text class="c" transform="translate(523.2 516.8) scale(0.82 1)" y="3.08" text-anchor="middle">VSB36</text>
<text class="c" transform="translate(1389.8 516.8) scale(0.82 1)" y="3.08" text-anchor="middle">VSB36</text>
<text class="d" transform="translate(533.5 532.5) scale(0.8 1)" y="3.29" text-anchor="middle">AAV</text>
<text class="d" transform="translate(1379.5 532.5) scale(0.8 1)" y="3.29" text-anchor="middle">AAV</text>
<text class="t" transform="translate(494 516) rotate(-90) scale(0.8 1)" y="2.51" text-anchor="middle">1/2"F</text>
<text class="t" transform="translate(1419 516) rotate(-90) scale(0.8 1)" y="2.51" text-anchor="middle">1/2"F</text>
<text class="d" transform="translate(652 477) rotate(-90) scale(0.93 1)" y="3.29" text-anchor="middle">5-0TUB/SHWR</text>
<text class="d" transform="translate(1261 477) rotate(-90) scale(0.93 1)" y="3.29" text-anchor="middle">5-0TUB/SHWR</text>
<text class="t" transform="translate(641 427.5) scale(0.8 1)" y="2.51" text-anchor="middle">1.5V</text>
<text class="t" transform="translate(1272 427.5) scale(0.8 1)" y="2.51" text-anchor="middle">1.5V</text>
<text class="t" transform="translate(664 427.5) scale(0.8 1)" y="2.51" text-anchor="middle">2x4</text>
<text class="t" transform="translate(1249 427.5) scale(0.8 1)" y="2.51" text-anchor="middle">2x4</text>
<text class="d" transform="translate(576.5 543.4) scale(0.8 1)" y="3.29" text-anchor="middle">2PV</text>
<text class="d" transform="translate(1336.5 543.4) scale(0.8 1)" y="3.29" text-anchor="middle">2PV</text>
<text class="d" transform="translate(601 543.4) scale(0.8 1)" y="3.29" text-anchor="middle">3V</text>
<text class="d" transform="translate(1312 543.4) scale(0.8 1)" y="3.29" text-anchor="middle">3V</text>
<text class="d" transform="translate(646.5 543.4) scale(0.8 1)" y="3.29" text-anchor="middle">3R</text>
<text class="d" transform="translate(1266.5 543.4) scale(0.8 1)" y="3.29" text-anchor="middle">3R</text>
<text class="d" transform="translate(667.3 543.4) scale(0.8 1)" y="3.29" text-anchor="middle">2x6</text>
<text class="d" transform="translate(1245.7 543.4) scale(0.8 1)" y="3.29" text-anchor="middle">2x6</text>
<text class="w" transform="translate(544 565.4) scale(0.95 1)" y="3.72" text-anchor="middle">LAUNDRY/</text>
<text class="w" transform="translate(1347.5 578.75) scale(0.95 1)" y="3.72" text-anchor="middle">LAUNDRY/</text>
<text class="w" transform="translate(544 580) scale(0.95 1)" y="3.72" text-anchor="middle">MUDROOM</text>
<text class="w" transform="translate(1347.5 594) scale(0.95 1)" y="3.72" text-anchor="middle">MUDROOM</text>
<text class="d" transform="translate(491 584) rotate(-90) scale(0.8 1)" y="3.29" text-anchor="middle">2-8</text>
<text class="d" transform="translate(1422 584) rotate(-90) scale(0.8 1)" y="3.29" text-anchor="middle">2-8</text>
<text class="d" transform="translate(523 636) scale(0.8 1)" y="3.29" text-anchor="middle">3'-2 1/2"</text>
<text class="d" transform="translate(1390 636) scale(0.8 1)" y="3.29" text-anchor="middle">3'-2 1/2"</text>
<text class="r" transform="translate(525 675.3) scale(0.86 1)" y="4.94" text-anchor="middle">W/D</text>
<text class="r" transform="translate(1388 675.3) scale(0.86 1)" y="4.94" text-anchor="middle">W/D</text>
<text class="t" transform="translate(495 664.3) rotate(-90) scale(0.8 1)" y="2.51" text-anchor="middle">22</text>
<text class="t" transform="translate(1418 664.3) rotate(-90) scale(0.8 1)" y="2.51" text-anchor="middle">22</text>
<text class="d" transform="translate(626.8 652.5) scale(0.8 1)" y="3.29" text-anchor="middle">5-0</text>
<text class="d" transform="translate(1286.2 652.5) scale(0.8 1)" y="3.29" text-anchor="middle">5-0</text>
<text class="d" transform="translate(626.8 688) scale(0.8 1)" y="3.29" text-anchor="middle">5'-10"</text>
<text class="d" transform="translate(1286.2 688) scale(0.8 1)" y="3.29" text-anchor="middle">5'-10"</text>
<text class="d" transform="translate(631.5 706.7) scale(0.8 1)" y="3.29" text-anchor="middle">2x8</text>
<text class="d" transform="translate(1281.5 706.7) scale(0.8 1)" y="3.29" text-anchor="middle">2x8</text>
<text class="d" transform="translate(679.5 587) rotate(-90) scale(0.81 1)" y="3.29" text-anchor="middle">(2) 2x6 SPF#2 HDR</text>
<text class="d" transform="translate(1233.5 587) rotate(-90) scale(0.81 1)" y="3.29" text-anchor="middle">(2) 2x6 SPF#2 HDR</text>
<text class="d" transform="translate(708.7 584.3) rotate(-90) scale(0.8 1)" y="3.29" text-anchor="middle">2-8 (45 min)</text>
<text class="d" transform="translate(1204.3 584.3) rotate(-90) scale(0.8 1)" y="3.29" text-anchor="middle">2-8 (45 min)</text>
<text class="d" transform="translate(721.4 584) rotate(-90) scale(0.85 1)" y="3.29" text-anchor="middle">RO: 33 1/2 x 81 1/2</text>
<text class="d" transform="translate(1191.6 584) rotate(-90) scale(0.85 1)" y="3.29" text-anchor="middle">RO: 33 1/2 x 81 1/2</text>
<text class="d" transform="translate(589 725.6) scale(0.8 1)" y="3.29" text-anchor="middle">9'-4 1/2"</text>
<text class="d" transform="translate(1324 725.6) scale(0.8 1)" y="3.29" text-anchor="middle">9'-4 1/2"</text>
<text class="t" transform="translate(500.2 748.7) rotate(-90) scale(0.8 1)" y="2.51" text-anchor="middle">DN</text>
<text class="t" transform="translate(1412.8 748.7) rotate(-90) scale(0.8 1)" y="2.51" text-anchor="middle">DN</text>
<text class="d" transform="translate(482.7 749) rotate(-90) scale(0.8 1)" y="3.29" text-anchor="middle">2-6</text>
<text class="d" transform="translate(1430.3 749) rotate(-90) scale(0.8 1)" y="3.29" text-anchor="middle">2-6</text>
<text class="t" transform="translate(573 749) scale(0.97 1)" y="2.51" text-anchor="middle">7-3/4" MAX RISE</text>
<text class="t" transform="translate(1340 749) scale(0.97 1)" y="2.51" text-anchor="middle">7-3/4" MAX RISE</text>
<text class="t" transform="translate(573 759.5) scale(0.93 1)" y="2.51" text-anchor="middle">10" MIN TREAD</text>
<text class="t" transform="translate(1340 759.5) scale(0.93 1)" y="2.51" text-anchor="middle">10" MIN TREAD</text>
<text class="d" transform="translate(637.4 814.3) scale(0.88 1)" y="3.29" text-anchor="middle">INSULATE BSMT</text>
<text class="d" transform="translate(1275.6 814.3) scale(0.88 1)" y="3.29" text-anchor="middle">INSULATE BSMT</text>
<text class="d" transform="translate(638.3 827) scale(0.89 1)" y="3.29" text-anchor="middle">STAIR WALLS</text>
<text class="d" transform="translate(1274.7 827) scale(0.89 1)" y="3.29" text-anchor="middle">STAIR WALLS</text>
<text class="d" transform="translate(585.7 828.8) scale(0.8 1)" y="3.29" text-anchor="middle">9'-8 1/2"</text>
<text class="d" transform="translate(1327.3 828.8) scale(0.8 1)" y="3.29" text-anchor="middle">9'-8 1/2"</text>
<text class="d" transform="translate(551.3 850.3) scale(0.88 1)" y="3.29">ON SITE HANDRAIL PER CODE</text>
<text class="d" transform="translate(1245 848.75) scale(0.88 1)" y="3.29">ON SITE HANDRAIL PER CODE</text>
<text class="t" transform="translate(705.4 909.7) rotate(-90) scale(1.03 1)" y="2.51" text-anchor="middle">PANEL BOX</text>
<text class="t" transform="translate(1207.6 909.7) rotate(-90) scale(1.03 1)" y="2.51" text-anchor="middle">PANEL BOX</text>
<text class="t" transform="translate(694 934) rotate(-90) scale(0.8 1)" y="2.51" text-anchor="middle">20"</text>
<text class="t" transform="translate(1219 934) rotate(-90) scale(0.8 1)" y="2.51" text-anchor="middle">20"</text>
<text class="c" transform="translate(177 870.5) scale(0.86 1)" y="3.08" text-anchor="middle">W12</text>
<text class="c" transform="translate(1736 870.5) scale(0.86 1)" y="3.08" text-anchor="middle">W12</text>
<text class="c" transform="translate(177 882.5) scale(0.86 1)" y="3.08" text-anchor="middle">36</text>
<text class="c" transform="translate(1736 882.5) scale(0.86 1)" y="3.08" text-anchor="middle">36</text>
<text class="c" transform="translate(208 876.75) scale(0.96 1)" y="3.08" text-anchor="middle">W2436DD</text>
<text class="c" transform="translate(1705 876.75) scale(0.96 1)" y="3.08" text-anchor="middle">W2436DD</text>
<text class="c" transform="translate(256 876.75) scale(0.99 1)" y="3.08" text-anchor="middle">W3015</text>
<text class="c" transform="translate(1657 876.75) scale(0.99 1)" y="3.08" text-anchor="middle">W3015</text>
<text class="c" transform="translate(303.75 876.75) scale(0.96 1)" y="3.08" text-anchor="middle">W2436DD</text>
<text class="c" transform="translate(1609.25 876.75) scale(0.96 1)" y="3.08" text-anchor="middle">W2436DD</text>
<text class="c" transform="translate(208 901) scale(0.86 1)" y="3.08" text-anchor="middle">B24</text>
<text class="c" transform="translate(1705 901) scale(0.86 1)" y="3.08" text-anchor="middle">B24</text>
<text class="c" transform="translate(303.75 901) scale(0.86 1)" y="3.08" text-anchor="middle">B24</text>
<text class="c" transform="translate(1609.25 901) scale(0.86 1)" y="3.08" text-anchor="middle">B24</text>
<text class="c" transform="translate(150 889) rotate(-45) scale(0.91 1)" y="3.08" text-anchor="middle">WDC2436</text>
<text class="c" transform="translate(163.5 905.5) rotate(-45) scale(0.86 1)" y="3.08" text-anchor="middle">LS36</text>
<text class="c" transform="translate(1765 891) rotate(45) scale(0.91 1)" y="3.08" text-anchor="middle">WDC2436</text>
<text class="c" transform="translate(1750 905) rotate(50) scale(0.86 1)" y="3.08" text-anchor="middle">LS36</text>
<text class="c" transform="translate(134 934) rotate(-90) scale(0.86 1)" y="3.08" text-anchor="middle">W3036</text>
<text class="c" transform="translate(1779 934) rotate(-90) scale(0.86 1)" y="3.08" text-anchor="middle">W3036</text>
<text class="c" transform="translate(160 944.5) rotate(-90) scale(0.83 1)" y="3.08" text-anchor="middle">DB18D3</text>
<text class="c" transform="translate(1753 944.5) rotate(-90) scale(0.83 1)" y="3.08" text-anchor="middle">DB18D3</text>
<text class="c" transform="translate(174 991) rotate(-90) scale(0.86 1)" y="3.08" text-anchor="middle">RSB36</text>
<text class="c" transform="translate(1739 991) rotate(-90) scale(0.86 1)" y="3.08" text-anchor="middle">RSB36</text>
<text class="c" transform="translate(134 1047.5) rotate(-90) scale(0.86 1)" y="3.08" text-anchor="middle">W2736</text>
<text class="c" transform="translate(1779 1047.5) rotate(-90) scale(0.86 1)" y="3.08" text-anchor="middle">W2736</text>
<text class="c" transform="translate(161 1048.75) rotate(-90) scale(0.86 1)" y="3.08" text-anchor="middle">DW</text>
<text class="c" transform="translate(1752 1048.75) rotate(-90) scale(0.86 1)" y="3.08" text-anchor="middle">DW</text>
<text class="c" transform="translate(145 1078) scale(0.86 1)" y="3.08" text-anchor="middle">DWP3</text>
<text class="c" transform="translate(1768 1078) scale(0.86 1)" y="3.08" text-anchor="middle">DWP3</text>
<text class="t" transform="translate(118.75 1030) rotate(-90) scale(0.8 1)" y="2.51" text-anchor="middle">AAV</text>
<text class="t" transform="translate(1794.25 1030) rotate(-90) scale(0.8 1)" y="2.51" text-anchor="middle">AAV</text>
<text class="t" transform="translate(319 897.5) rotate(-90) scale(0.8 1)" y="2.51" text-anchor="middle">1/2"F</text>
<text class="t" transform="translate(1594 897.5) rotate(-90) scale(0.8 1)" y="2.51" text-anchor="middle">1/2"F</text>
<text class="t" transform="translate(331 887) rotate(-90) scale(0.8 1)" y="2.51" text-anchor="middle">W2424</text>
<text class="t" transform="translate(1582 887) rotate(-90) scale(0.8 1)" y="2.51" text-anchor="middle">W2424</text>
<text class="t" transform="translate(389 899) rotate(-90) scale(0.8 1)" y="2.51" text-anchor="middle">3/4"</text>
<text class="t" transform="translate(1524 899) rotate(-90) scale(0.8 1)" y="2.51" text-anchor="middle">3/4"</text>
<text class="c" transform="translate(360 886) scale(0.96 1)" y="3.08" text-anchor="middle">RW3618</text>
<text class="c" transform="translate(1553 886) scale(0.96 1)" y="3.08" text-anchor="middle">RW3618</text>
<text class="c" transform="translate(363.75 912.5) scale(0.93 1)" y="3.08" text-anchor="middle">ICE MAKER</text>
<text class="c" transform="translate(1549.25 912.5) scale(0.93 1)" y="3.08" text-anchor="middle">ICE MAKER</text>
<text class="r" transform="translate(268.75 956.25) scale(0.88 1)" y="4.94" text-anchor="middle">KITCHEN</text>
<text class="r" transform="translate(1644.25 956.25) scale(0.88 1)" y="4.94" text-anchor="middle">KITCHEN</text>
<text class="d" transform="translate(303.75 946.25) rotate(-90) scale(0.8 1)" y="3.29" text-anchor="middle">3'-7"</text>
<text class="d" transform="translate(1595.25 946.25) rotate(-90) scale(0.8 1)" y="3.29" text-anchor="middle">3'-7"</text>
<text class="d" transform="translate(202.5 988.75) scale(0.8 1)" y="3.29" text-anchor="middle">3'-4"</text>
<text class="d" transform="translate(1710.5 988.75) scale(0.8 1)" y="3.29" text-anchor="middle">3'-4"</text>
<text class="c" transform="translate(263.25 991.25) scale(0.86 1)" y="3.08" text-anchor="middle">B24</text>
<text class="c" transform="translate(1649.75 991.25) scale(0.86 1)" y="3.08" text-anchor="middle">B24</text>
<text class="c" transform="translate(305.75 991) scale(0.92 1)" y="3.08" text-anchor="middle">DB24D3</text>
<text class="c" transform="translate(1607.25 991) scale(0.92 1)" y="3.08" text-anchor="middle">DB24D3</text>
<text class="c" transform="translate(348.25 991.25) scale(0.86 1)" y="3.08" text-anchor="middle">B24</text>
<text class="c" transform="translate(1564.75 991.25) scale(0.86 1)" y="3.08" text-anchor="middle">B24</text>
<text class="c" transform="translate(231.25 1005) rotate(-90) scale(0.86 1)" y="3.08" text-anchor="middle">DWP3</text>
<text class="c" transform="translate(1681.75 1005) rotate(-90) scale(0.86 1)" y="3.08" text-anchor="middle">DWP3</text>
<text class="c" transform="translate(380.75 1005) rotate(-90) scale(0.86 1)" y="3.08" text-anchor="middle">DWP3</text>
<text class="c" transform="translate(1532.25 1005) rotate(-90) scale(0.86 1)" y="3.08" text-anchor="middle">DWP3</text>
<text class="c" transform="translate(305.75 1033) scale(0.94 1)" y="3.08" text-anchor="middle">PANEL BACKER</text>
<text class="c" transform="translate(1607.25 1033) scale(0.94 1)" y="3.08" text-anchor="middle">PANEL BACKER</text>
<text class="r" transform="translate(293.75 1133.25) scale(0.88 1)" y="4.94" text-anchor="middle">DINING ROOM</text>
<text class="r" transform="translate(1619.25 1133.25) scale(0.88 1)" y="4.94" text-anchor="middle">DINING ROOM</text>
<text class="r" transform="translate(562 1089) scale(0.87 1)" y="4.94" text-anchor="middle">LIVING ROOM</text>
<text class="r" transform="translate(1349 1081) scale(0.87 1)" y="4.94" text-anchor="middle">LIVING ROOM</text>
<text class="d" transform="translate(143.75 1158.75) rotate(-90) scale(0.8 1)" y="3.29" text-anchor="middle">8'-2 1/4"</text>
<text class="d" transform="translate(1756.5 1158.75) rotate(-90) scale(0.8 1)" y="3.29" text-anchor="middle">8'-2 1/4"</text>
<text class="d" transform="translate(420 956.25) rotate(-90) scale(0.91 1)" y="3.29" text-anchor="middle">(3) 2x4 SPF#2</text>
<text class="d" transform="translate(430.5 956) rotate(-90) scale(0.83 1)" y="3.29" text-anchor="middle">EA. MODULE</text>
<text class="d" transform="translate(1484.5 955) rotate(-90) scale(0.91 1)" y="3.29" text-anchor="middle">(3) 2x4 SPF#2</text>
<text class="d" transform="translate(1498 955) rotate(-90) scale(0.83 1)" y="3.29" text-anchor="middle">EA. MODULE</text>
<text class="d" transform="translate(397.5 1077.5) rotate(-90) scale(0.87 1)" y="3.29" text-anchor="middle">(2) 1.5x9.25" LVL IN CEILING, EA. MODULE</text>
<text class="d" transform="translate(1515.5 1077.5) rotate(-90) scale(0.87 1)" y="3.29" text-anchor="middle">(2) 1.5x9.25" LVL IN CEILING, EA. MODULE</text>
<text class="d" transform="translate(412.5 1077.5) rotate(-90) scale(0.86 1)" y="3.29" text-anchor="middle">FLUSH CEILING</text>
<text class="d" transform="translate(1500.5 1077.5) rotate(-90) scale(0.86 1)" y="3.29" text-anchor="middle">FLUSH CEILING</text>
<text class="d" transform="translate(384.25 1197.5) rotate(-90) scale(0.88 1)" y="3.29" text-anchor="middle">(2) 2x6 SPF#2</text>
<text class="d" transform="translate(396.25 1197.5) rotate(-90) scale(0.83 1)" y="3.29" text-anchor="middle">EA. MODULE</text>
<text class="d" transform="translate(1522.5 1197.5) rotate(-90) scale(0.88 1)" y="3.29" text-anchor="middle">(2) 2x6 SPF#2</text>
<text class="d" transform="translate(1534.5 1197.5) rotate(-90) scale(0.83 1)" y="3.29" text-anchor="middle">EA. MODULE</text>
<text class="s" transform="translate(490 1003.5) scale(0.93 1)" y="2.33" text-anchor="middle">KITCHEN + LR + DR</text>
<text class="s" transform="translate(1423 1004.5) scale(0.93 1)" y="2.33" text-anchor="middle">KITCHEN + LR + DR</text>
<text class="s" transform="translate(490 1012.5) scale(0.91 1)" y="2.33" text-anchor="middle">AREA = 536.87 SF</text>
<text class="s" transform="translate(1423 1013.5) scale(0.91 1)" y="2.33" text-anchor="middle">AREA = 536.87 SF</text>
<text class="s" transform="translate(490 1021.5) scale(0.95 1)" y="2.33" text-anchor="middle">LT = 42.95 (REQD) 51.92 (PROV)</text>
<text class="s" transform="translate(1423 1022.5) scale(0.95 1)" y="2.33" text-anchor="middle">LT = 42.95 (REQD) 51.92 (PROV)</text>
<text class="s" transform="translate(490 1030.5) scale(0.94 1)" y="2.33" text-anchor="middle">VT = 21.47 (REQD) 45.06 (PROV)</text>
<text class="s" transform="translate(1423 1031.5) scale(0.94 1)" y="2.33" text-anchor="middle">VT = 21.47 (REQD) 45.06 (PROV)</text>
<text class="d" transform="translate(288.7 199) rotate(-90) scale(0.8 1)" y="3.29" text-anchor="middle">3'-5 11/16"</text>
<text class="d" transform="translate(1609.5 199) rotate(-90) scale(0.8 1)" y="3.29" text-anchor="middle">3'-5 11/16"</text>
<text class="d" transform="translate(299 285.2) rotate(-90) scale(0.8 1)" y="3.29" text-anchor="middle">3'-11"</text>
<text class="d" transform="translate(1609.5 285.2) rotate(-90) scale(0.8 1)" y="3.29" text-anchor="middle">3'-11"</text>
<text class="d" transform="translate(184 311.3) rotate(-90) scale(0.8 1)" y="3.29" text-anchor="middle">1'-4"</text>
<text class="d" transform="translate(1722.5 311.3) rotate(-90) scale(0.8 1)" y="3.29" text-anchor="middle">1'-4"</text>
<text class="d" transform="translate(423 207) rotate(-90) scale(0.8 1)" y="3.29" text-anchor="middle">8'-0"</text>
<text class="d" transform="translate(1486 207) rotate(-90) scale(0.8 1)" y="3.29" text-anchor="middle">8'-0"</text>
<text class="d" transform="translate(464.6 207) rotate(-90) scale(0.8 1)" y="3.29" text-anchor="middle">6-0</text>
<text class="d" transform="translate(1448.4 207) rotate(-90) scale(0.8 1)" y="3.29" text-anchor="middle">6-0</text>
<text class="d" transform="translate(386 745) rotate(-90) scale(0.8 1)" y="3.29" text-anchor="middle">3'-7"</text>
<text class="d" transform="translate(1522.5 745) rotate(-90) scale(0.8 1)" y="3.29" text-anchor="middle">3'-7"</text>
<text class="d" transform="translate(371 822.5) rotate(-90) scale(0.8 1)" y="3.29" text-anchor="middle">3'-1"</text>
<text class="d" transform="translate(1529 822.5) rotate(-90) scale(0.8 1)" y="3.29" text-anchor="middle">3'-1"</text>
<text class="d" transform="translate(613.6 481.6) rotate(-90) scale(0.8 1)" y="3.29" text-anchor="middle">5'-3 1/2"</text>
<text class="d" transform="translate(1294.5 481.6) rotate(-90) scale(0.8 1)" y="3.29" text-anchor="middle">5'-3 1/2"</text>
<text class="d" transform="translate(593 600) rotate(-90) scale(0.8 1)" y="3.29" text-anchor="middle">4'-10 1/2"</text>
<text class="d" transform="translate(1306.5 600) rotate(-90) scale(0.8 1)" y="3.29" text-anchor="middle">4'-10 1/2"</text>
<text class="d" transform="translate(665.4 759.5) rotate(-90) scale(0.8 1)" y="3.29" text-anchor="middle">4'-1"</text>
<text class="d" transform="translate(1247.5 759.5) rotate(-90) scale(0.8 1)" y="3.29" text-anchor="middle">4'-1"</text>
<text class="d" transform="translate(667 1050) rotate(-90) scale(0.8 1)" y="3.29" text-anchor="middle">22'-7 1/4"</text>
<text class="d" transform="translate(1247 1035) rotate(-90) scale(0.8 1)" y="3.29" text-anchor="middle">22'-7 1/4"</text>
<text class="d" transform="translate(433.75 1078.75) rotate(-90) scale(0.8 1)" y="3.29" text-anchor="middle">15'-6"</text>
<text class="d" transform="translate(1465.5 1078.75) rotate(-90) scale(0.8 1)" y="3.29" text-anchor="middle">15'-6"</text>
<text class="d" transform="translate(733.3 389.2) scale(0.8 1)" y="3.29" text-anchor="middle">3'-0"</text>
<text class="d" transform="translate(1179.7 389.2) scale(0.8 1)" y="3.29" text-anchor="middle">3'-0"</text>
<text class="d" transform="translate(956.6 389) scale(0.8 1)" y="3.29" text-anchor="middle">18'-0"</text>
<text class="d" transform="translate(956.6 412.75) scale(0.8 1)" y="3.29" text-anchor="middle">24'-0"</text>
<text class="d" transform="translate(725.8 410.5) scale(0.8 1)" y="3.29" text-anchor="middle">1 1/2"</text>
<text class="d" transform="translate(1187.2 410.5) scale(0.8 1)" y="3.29" text-anchor="middle">1 1/2"</text>
<text class="d" transform="translate(730.5 403) rotate(-90) scale(0.8 1)" y="3.29" text-anchor="middle">6"</text>
<text class="d" transform="translate(1168.5 403) rotate(-90) scale(0.8 1)" y="3.29" text-anchor="middle">6"</text>
<text class="d" transform="translate(765.4 430) scale(0.88 1)" y="3.29" text-anchor="middle">RO: 38 1/2 x 82 1/2</text>
<text class="d" transform="translate(1147.6 430) scale(0.88 1)" y="3.29" text-anchor="middle">RO: 38 1/2 x 82 1/2</text>
<text class="d" transform="translate(765.4 442) scale(0.87 1)" y="3.29" text-anchor="middle">3-0 (1/2 Glass)</text>
<text class="d" transform="translate(1147.6 442) scale(0.87 1)" y="3.29" text-anchor="middle">3-0 (1/2 Glass)</text>
<text class="d" transform="translate(765.4 454.8) scale(0.8 1)" y="3.29" text-anchor="middle">SF684</text>
<text class="d" transform="translate(1147.6 454.8) scale(0.8 1)" y="3.29" text-anchor="middle">SF684</text>
<text class="d" transform="translate(731 134) rotate(-90) scale(0.8 1)" y="3.29" text-anchor="middle">6"</text>
<text class="d" transform="translate(745 190) rotate(-90) scale(0.8 1)" y="3.29" text-anchor="middle">7'-6"</text>
<text class="d" transform="translate(731 268) rotate(-90) scale(0.8 1)" y="3.29" text-anchor="middle">13'-10"</text>
<text class="d" transform="translate(1168.7 134.4) rotate(-90) scale(0.8 1)" y="3.29" text-anchor="middle">6"</text>
<text class="d" transform="translate(1150.4 191.7) rotate(-90) scale(0.8 1)" y="3.29" text-anchor="middle">7'-6"</text>
<text class="d" transform="translate(1168.7 270) rotate(-90) scale(0.8 1)" y="3.29" text-anchor="middle">14'-0"</text>
<text class="d" transform="translate(1132.2 281.8) rotate(-90) scale(0.8 1)" y="3.29" text-anchor="middle">16'-0"</text>
<text class="d" transform="translate(1174 1133) rotate(-90) scale(0.8 1)" y="3.29" text-anchor="middle">16'-0"</text>
<text class="d" transform="translate(1392 1266) rotate(-90) scale(0.8 1)" y="3.29" text-anchor="middle">2'-0"</text>
<text class="n" transform="translate(817.7 479.25) scale(0.88 1)" y="3.29">MIN. 1/2" GYP,</text>
<text class="n" transform="translate(817.7 490.6) scale(0.88 1)" y="3.29">ON-SITE BY BUILDER</text>
<text class="n" transform="translate(1026.6 478) scale(0.88 1)" y="3.29">MIN. 1/2" GYP, ON-SITE BY BUILDER</text>
<text class="n" transform="translate(988.5 499.8) scale(0.89 1)" y="3.29">SEPARATION WALL HELD TIGHT TO EXTERIOR WALL.</text>
<text class="n" transform="translate(983.5 518.8) scale(0.89 1)" y="3.29">1-HOUR RATED SEPARATION WALL PROVIDED</text>
<text class="n" transform="translate(983.5 530.52) scale(0.89 1)" y="3.29">ON-SITE BY BUILDER. SEPARATION WALL SHALL</text>
<text class="n" transform="translate(983.5 542.24) scale(0.88 1)" y="3.29">EXTEND FROM THE GARAGE SLAB TO THE</text>
<text class="n" transform="translate(983.5 553.96) scale(0.88 1)" y="3.29">GARAGE CEILING. GARAGE CEILING SHALL BE</text>
<text class="n" transform="translate(983.5 565.68) scale(0.88 1)" y="3.29">PROTECTED BY MIN. 5/8" TYPE 'X' GYPSUM</text>
<text class="n" transform="translate(983.5 577.4) scale(0.88 1)" y="3.29">(PROVIDED AND INSTALLED ON-SITE BY BUILDER).</text>
<text class="n" transform="translate(983.5 589.12) scale(0.89 1)" y="3.29">IN ADDITION, A DRAFT-STOP SHALL BE INSTALLED</text>
<text class="n" transform="translate(983.5 600.84) scale(0.89 1)" y="3.29">IN GARAGE ATTIC ABOVE AND ALONG THIS</text>
<text class="n" transform="translate(983.5 612.56) scale(0.89 1)" y="3.29">SEPARATION WALL.</text>
<text class="t" transform="translate(831 643.7) scale(0.98 1)" y="2.51" text-anchor="middle">22 1/2x36</text>
<text class="t" transform="translate(1082 643.7) scale(0.98 1)" y="2.51" text-anchor="middle">22 1/2x36</text>
<text class="t" transform="translate(831 654) scale(1.01 1)" y="2.51" text-anchor="middle">ATTIC</text>
<text class="t" transform="translate(1082 654) scale(1.01 1)" y="2.51" text-anchor="middle">ATTIC</text>
<text class="t" transform="translate(831 664) scale(0.94 1)" y="2.51" text-anchor="middle">ACCESS</text>
<text class="t" transform="translate(1082 664) scale(0.94 1)" y="2.51" text-anchor="middle">ACCESS</text>
<text class="n" transform="translate(725.8 698.3) scale(0.89 1)" y="3.29">MIN. 1/2" GYP, ON-SITE BY</text>
<text class="n" transform="translate(725.8 709.6) scale(0.88 1)" y="3.29">BUILDER ON GARAGE SIDE</text>
<text class="d" transform="translate(920.8 705.5) rotate(-90) scale(0.8 1)" y="3.29" text-anchor="middle">21'-0"</text>
<text class="r" transform="translate(829.4 751.7) scale(0.88 1)" y="4.94" text-anchor="middle">PANELIZED GARAGE</text>
<text class="r" transform="translate(1082.5 748.7) scale(0.88 1)" y="4.94" text-anchor="middle">PANELIZED GARAGE</text>
<text class="n" transform="translate(768.2 765.2) scale(0.88 1)" y="3.29">5/8" TYPE 'X' GYP ON GARAGE</text>
<text class="n" transform="translate(768.2 778) scale(0.87 1)" y="3.29">CEILING, ON-SITE BY BUILDER</text>
<text class="n" transform="translate(1021.6 762.2) scale(0.88 1)" y="3.29">5/8" TYPE 'X' GYP ON GARAGE</text>
<text class="n" transform="translate(1021.6 775) scale(0.87 1)" y="3.29">CEILING, ON-SITE BY BUILDER</text>
<text class="n" transform="translate(989.2 898.4) scale(0.89 1)" y="3.29">SEPARATION WALL HELD</text>
<text class="n" transform="translate(989.2 910) scale(0.88 1)" y="3.29">TIGHT TO EXTERIOR WALL.</text>
<text class="n" transform="translate(731.8 927.2) scale(0.88 1)" y="3.29">MIN. 1/2" GYP, ON-SITE BY BUILDER</text>
<text class="n" transform="translate(1035.4 927.2) scale(0.88 1)" y="3.29">MIN. 1/2" GYP, ON-SITE BY BUILDER</text>
<text class="n" transform="translate(823.5 946.4) scale(0.9 1)" y="3.29" text-anchor="middle">(3) 1.5x11.25" LVL HDR</text>
<text class="n" transform="translate(1089.5 946.4) scale(0.9 1)" y="3.29" text-anchor="middle">(3) 1.5x11.25" LVL HDR</text>
<text class="n" transform="translate(830.8 966.2) scale(0.88 1)" y="3.29" text-anchor="middle">8'-3" R.O. FOR ON-SITE GARAGE DR</text>
<text class="n" transform="translate(1082.2 966.2) scale(0.88 1)" y="3.29" text-anchor="middle">8'-3" R.O. FOR ON-SITE GARAGE DR</text>
<text class="d" transform="translate(725.8 976.6) scale(0.8 1)" y="3.29" text-anchor="middle">1 1/2"</text>
<text class="d" transform="translate(1187.2 976.6) scale(0.8 1)" y="3.29" text-anchor="middle">1 1/2"</text>
<text class="d" transform="translate(766.3 989.8) scale(0.8 1)" y="3.29" text-anchor="middle">6'-1"</text>
<text class="d" transform="translate(1146.7 989.8) scale(0.8 1)" y="3.29" text-anchor="middle">6'-1"</text>
<text class="d" transform="translate(956 989.8) scale(0.8 1)" y="3.29" text-anchor="middle">11'-10"</text>
<text class="d" transform="translate(956 1011.4) scale(0.8 1)" y="3.29" text-anchor="middle">24'-0"</text>
<text class="U" transform="translate(951.6 1234.8) scale(0.84 1)" y="6.8" text-anchor="middle">FRONT</text>
<text class="F" transform="translate(951 1257.5) scale(0.97 1)" y="4.4" text-anchor="middle">8'-0" CLG HT</text>
<text class="F" transform="translate(951 1276.6) scale(0.99 1)" y="4.4" text-anchor="middle">6'-10 1/4" WINDOW HDR HT U.N.O.</text>
<text class="b" transform="translate(860.25 1305) scale(0.93 1)" y="2.36">THIS HOME WILL BE ERECTED ON A VACANT LOT.</text>
<text class="b" transform="translate(860.25 1314.75) scale(0.92 1)" y="2.36">ALL SETBACK DISTANCES FOR EXTERIOR WALLS &amp; PROJECTIONS</text>
<text class="b" transform="translate(860.25 1325) scale(0.92 1)" y="2.36">SHALL EXCEED THOSE LISTED IN TABLE R302.1(1) FOR 0-HOUR</text>
<text class="b" transform="translate(860.25 1333.7) scale(0.92 1)" y="2.36">RATING, UNLESS OTHERWISE NOTED ON PLAN.</text>
<text class="b" transform="translate(860.25 1344) scale(0.92 1)" y="2.36">THIS HOUSE IS NOT LOCATED IN A FLOOD ZONE.</text>
<text class="b" transform="translate(860.25 1352.8) scale(0.92 1)" y="2.36">WATER HEATER IS ON-SITE BY OTHERS.</text>
</g>
</svg></body></html>
